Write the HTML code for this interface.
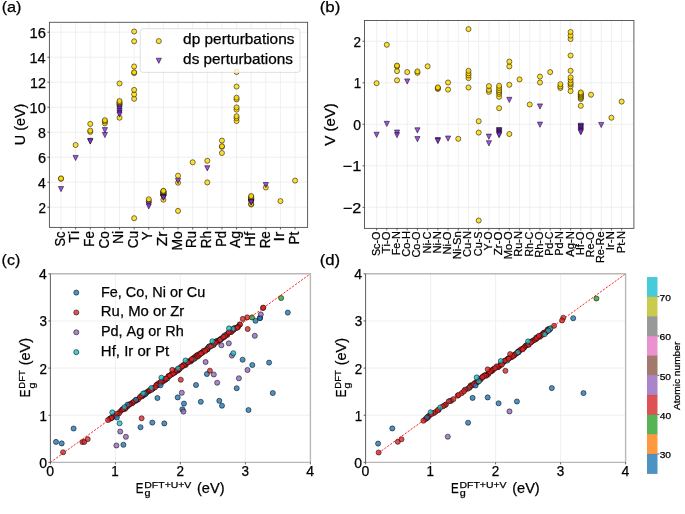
<!DOCTYPE html>
<html><head><meta charset="utf-8"><style>
html,body{margin:0;padding:0;background:#fff;width:685px;height:514px;overflow:hidden}
svg{display:block;will-change:transform}
text{font-family:"Liberation Sans",sans-serif;fill:#000;font-kerning:none;stroke:#000;stroke-width:0.25px}
</style></head><body>
<svg width="685" height="514" viewBox="0 0 685 514">
<rect width="685" height="514" fill="#fff"/>
<line x1="61.00" y1="22.3" x2="61.00" y2="227.4" stroke="#eeeeee" stroke-width="0.9"/>
<line x1="75.63" y1="22.3" x2="75.63" y2="227.4" stroke="#eeeeee" stroke-width="0.9"/>
<line x1="90.26" y1="22.3" x2="90.26" y2="227.4" stroke="#eeeeee" stroke-width="0.9"/>
<line x1="104.89" y1="22.3" x2="104.89" y2="227.4" stroke="#eeeeee" stroke-width="0.9"/>
<line x1="119.52" y1="22.3" x2="119.52" y2="227.4" stroke="#eeeeee" stroke-width="0.9"/>
<line x1="134.15" y1="22.3" x2="134.15" y2="227.4" stroke="#eeeeee" stroke-width="0.9"/>
<line x1="148.78" y1="22.3" x2="148.78" y2="227.4" stroke="#eeeeee" stroke-width="0.9"/>
<line x1="163.41" y1="22.3" x2="163.41" y2="227.4" stroke="#eeeeee" stroke-width="0.9"/>
<line x1="178.04" y1="22.3" x2="178.04" y2="227.4" stroke="#eeeeee" stroke-width="0.9"/>
<line x1="192.67" y1="22.3" x2="192.67" y2="227.4" stroke="#eeeeee" stroke-width="0.9"/>
<line x1="207.30" y1="22.3" x2="207.30" y2="227.4" stroke="#eeeeee" stroke-width="0.9"/>
<line x1="221.93" y1="22.3" x2="221.93" y2="227.4" stroke="#eeeeee" stroke-width="0.9"/>
<line x1="236.56" y1="22.3" x2="236.56" y2="227.4" stroke="#eeeeee" stroke-width="0.9"/>
<line x1="251.19" y1="22.3" x2="251.19" y2="227.4" stroke="#eeeeee" stroke-width="0.9"/>
<line x1="265.82" y1="22.3" x2="265.82" y2="227.4" stroke="#eeeeee" stroke-width="0.9"/>
<line x1="280.45" y1="22.3" x2="280.45" y2="227.4" stroke="#eeeeee" stroke-width="0.9"/>
<line x1="295.08" y1="22.3" x2="295.08" y2="227.4" stroke="#eeeeee" stroke-width="0.9"/>
<line x1="49.4" y1="207.20" x2="307.6" y2="207.20" stroke="#eeeeee" stroke-width="0.9"/>
<line x1="49.4" y1="182.20" x2="307.6" y2="182.20" stroke="#eeeeee" stroke-width="0.9"/>
<line x1="49.4" y1="157.20" x2="307.6" y2="157.20" stroke="#eeeeee" stroke-width="0.9"/>
<line x1="49.4" y1="132.20" x2="307.6" y2="132.20" stroke="#eeeeee" stroke-width="0.9"/>
<line x1="49.4" y1="107.20" x2="307.6" y2="107.20" stroke="#eeeeee" stroke-width="0.9"/>
<line x1="49.4" y1="82.20" x2="307.6" y2="82.20" stroke="#eeeeee" stroke-width="0.9"/>
<line x1="49.4" y1="57.20" x2="307.6" y2="57.20" stroke="#eeeeee" stroke-width="0.9"/>
<line x1="49.4" y1="32.20" x2="307.6" y2="32.20" stroke="#eeeeee" stroke-width="0.9"/>
<circle cx="61.00" cy="178.80" r="2.55" fill="#ffd700" fill-opacity="0.8" stroke="#000" stroke-opacity="0.65" stroke-width="0.8"/>
<circle cx="61.00" cy="178.40" r="2.55" fill="#ffd700" fill-opacity="0.8" stroke="#000" stroke-opacity="0.65" stroke-width="0.8"/>
<circle cx="75.63" cy="145.00" r="2.55" fill="#ffd700" fill-opacity="0.8" stroke="#000" stroke-opacity="0.65" stroke-width="0.8"/>
<circle cx="90.26" cy="131.90" r="2.55" fill="#ffd700" fill-opacity="0.8" stroke="#000" stroke-opacity="0.65" stroke-width="0.8"/>
<circle cx="90.26" cy="130.60" r="2.55" fill="#ffd700" fill-opacity="0.8" stroke="#000" stroke-opacity="0.65" stroke-width="0.8"/>
<circle cx="90.26" cy="123.90" r="2.55" fill="#ffd700" fill-opacity="0.8" stroke="#000" stroke-opacity="0.65" stroke-width="0.8"/>
<circle cx="104.89" cy="123.30" r="2.55" fill="#ffd700" fill-opacity="0.8" stroke="#000" stroke-opacity="0.65" stroke-width="0.8"/>
<circle cx="104.89" cy="121.40" r="2.55" fill="#ffd700" fill-opacity="0.8" stroke="#000" stroke-opacity="0.65" stroke-width="0.8"/>
<circle cx="104.89" cy="120.20" r="2.55" fill="#ffd700" fill-opacity="0.8" stroke="#000" stroke-opacity="0.65" stroke-width="0.8"/>
<circle cx="119.52" cy="117.70" r="2.55" fill="#ffd700" fill-opacity="0.8" stroke="#000" stroke-opacity="0.65" stroke-width="0.8"/>
<circle cx="119.52" cy="104.60" r="2.55" fill="#ffd700" fill-opacity="0.8" stroke="#000" stroke-opacity="0.65" stroke-width="0.8"/>
<circle cx="119.52" cy="103.40" r="2.55" fill="#ffd700" fill-opacity="0.8" stroke="#000" stroke-opacity="0.65" stroke-width="0.8"/>
<circle cx="119.52" cy="102.20" r="2.55" fill="#ffd700" fill-opacity="0.8" stroke="#000" stroke-opacity="0.65" stroke-width="0.8"/>
<circle cx="119.52" cy="101.00" r="2.55" fill="#ffd700" fill-opacity="0.8" stroke="#000" stroke-opacity="0.65" stroke-width="0.8"/>
<circle cx="119.52" cy="83.50" r="2.55" fill="#ffd700" fill-opacity="0.8" stroke="#000" stroke-opacity="0.65" stroke-width="0.8"/>
<circle cx="134.15" cy="218.20" r="2.55" fill="#ffd700" fill-opacity="0.8" stroke="#000" stroke-opacity="0.65" stroke-width="0.8"/>
<circle cx="134.15" cy="98.80" r="2.55" fill="#ffd700" fill-opacity="0.8" stroke="#000" stroke-opacity="0.65" stroke-width="0.8"/>
<circle cx="134.15" cy="94.40" r="2.55" fill="#ffd700" fill-opacity="0.8" stroke="#000" stroke-opacity="0.65" stroke-width="0.8"/>
<circle cx="134.15" cy="89.90" r="2.55" fill="#ffd700" fill-opacity="0.8" stroke="#000" stroke-opacity="0.65" stroke-width="0.8"/>
<circle cx="134.15" cy="73.00" r="2.55" fill="#ffd700" fill-opacity="0.8" stroke="#000" stroke-opacity="0.65" stroke-width="0.8"/>
<circle cx="134.15" cy="72.30" r="2.55" fill="#ffd700" fill-opacity="0.8" stroke="#000" stroke-opacity="0.65" stroke-width="0.8"/>
<circle cx="134.15" cy="66.50" r="2.55" fill="#ffd700" fill-opacity="0.8" stroke="#000" stroke-opacity="0.65" stroke-width="0.8"/>
<circle cx="134.15" cy="41.30" r="2.55" fill="#ffd700" fill-opacity="0.8" stroke="#000" stroke-opacity="0.65" stroke-width="0.8"/>
<circle cx="134.15" cy="31.50" r="2.55" fill="#ffd700" fill-opacity="0.8" stroke="#000" stroke-opacity="0.65" stroke-width="0.8"/>
<circle cx="148.78" cy="201.20" r="2.55" fill="#ffd700" fill-opacity="0.8" stroke="#000" stroke-opacity="0.65" stroke-width="0.8"/>
<circle cx="148.78" cy="199.30" r="2.55" fill="#ffd700" fill-opacity="0.8" stroke="#000" stroke-opacity="0.65" stroke-width="0.8"/>
<circle cx="163.41" cy="199.70" r="2.55" fill="#ffd700" fill-opacity="0.8" stroke="#000" stroke-opacity="0.65" stroke-width="0.8"/>
<circle cx="163.41" cy="195.30" r="2.55" fill="#ffd700" fill-opacity="0.8" stroke="#000" stroke-opacity="0.65" stroke-width="0.8"/>
<circle cx="163.41" cy="194.80" r="2.55" fill="#ffd700" fill-opacity="0.8" stroke="#000" stroke-opacity="0.65" stroke-width="0.8"/>
<circle cx="163.41" cy="194.30" r="2.55" fill="#ffd700" fill-opacity="0.8" stroke="#000" stroke-opacity="0.65" stroke-width="0.8"/>
<circle cx="163.41" cy="193.80" r="2.55" fill="#ffd700" fill-opacity="0.8" stroke="#000" stroke-opacity="0.65" stroke-width="0.8"/>
<circle cx="163.41" cy="193.30" r="2.55" fill="#ffd700" fill-opacity="0.8" stroke="#000" stroke-opacity="0.65" stroke-width="0.8"/>
<circle cx="163.41" cy="192.80" r="2.55" fill="#ffd700" fill-opacity="0.8" stroke="#000" stroke-opacity="0.65" stroke-width="0.8"/>
<circle cx="163.41" cy="192.30" r="2.55" fill="#ffd700" fill-opacity="0.8" stroke="#000" stroke-opacity="0.65" stroke-width="0.8"/>
<circle cx="163.41" cy="191.80" r="2.55" fill="#ffd700" fill-opacity="0.8" stroke="#000" stroke-opacity="0.65" stroke-width="0.8"/>
<circle cx="163.41" cy="191.30" r="2.55" fill="#ffd700" fill-opacity="0.8" stroke="#000" stroke-opacity="0.65" stroke-width="0.8"/>
<circle cx="163.41" cy="190.80" r="2.55" fill="#ffd700" fill-opacity="0.8" stroke="#000" stroke-opacity="0.65" stroke-width="0.8"/>
<circle cx="178.04" cy="210.90" r="2.55" fill="#ffd700" fill-opacity="0.8" stroke="#000" stroke-opacity="0.65" stroke-width="0.8"/>
<circle cx="178.04" cy="182.70" r="2.55" fill="#ffd700" fill-opacity="0.8" stroke="#000" stroke-opacity="0.65" stroke-width="0.8"/>
<circle cx="178.04" cy="175.70" r="2.55" fill="#ffd700" fill-opacity="0.8" stroke="#000" stroke-opacity="0.65" stroke-width="0.8"/>
<circle cx="192.67" cy="162.30" r="2.55" fill="#ffd700" fill-opacity="0.8" stroke="#000" stroke-opacity="0.65" stroke-width="0.8"/>
<circle cx="207.30" cy="182.40" r="2.55" fill="#ffd700" fill-opacity="0.8" stroke="#000" stroke-opacity="0.65" stroke-width="0.8"/>
<circle cx="207.30" cy="160.80" r="2.55" fill="#ffd700" fill-opacity="0.8" stroke="#000" stroke-opacity="0.65" stroke-width="0.8"/>
<circle cx="221.93" cy="153.00" r="2.55" fill="#ffd700" fill-opacity="0.8" stroke="#000" stroke-opacity="0.65" stroke-width="0.8"/>
<circle cx="221.93" cy="146.80" r="2.55" fill="#ffd700" fill-opacity="0.8" stroke="#000" stroke-opacity="0.65" stroke-width="0.8"/>
<circle cx="221.93" cy="146.20" r="2.55" fill="#ffd700" fill-opacity="0.8" stroke="#000" stroke-opacity="0.65" stroke-width="0.8"/>
<circle cx="221.93" cy="140.60" r="2.55" fill="#ffd700" fill-opacity="0.8" stroke="#000" stroke-opacity="0.65" stroke-width="0.8"/>
<circle cx="236.56" cy="121.00" r="2.55" fill="#ffd700" fill-opacity="0.8" stroke="#000" stroke-opacity="0.65" stroke-width="0.8"/>
<circle cx="236.56" cy="118.10" r="2.55" fill="#ffd700" fill-opacity="0.8" stroke="#000" stroke-opacity="0.65" stroke-width="0.8"/>
<circle cx="236.56" cy="116.20" r="2.55" fill="#ffd700" fill-opacity="0.8" stroke="#000" stroke-opacity="0.65" stroke-width="0.8"/>
<circle cx="236.56" cy="109.60" r="2.55" fill="#ffd700" fill-opacity="0.8" stroke="#000" stroke-opacity="0.65" stroke-width="0.8"/>
<circle cx="236.56" cy="107.40" r="2.55" fill="#ffd700" fill-opacity="0.8" stroke="#000" stroke-opacity="0.65" stroke-width="0.8"/>
<circle cx="236.56" cy="99.40" r="2.55" fill="#ffd700" fill-opacity="0.8" stroke="#000" stroke-opacity="0.65" stroke-width="0.8"/>
<circle cx="236.56" cy="97.70" r="2.55" fill="#ffd700" fill-opacity="0.8" stroke="#000" stroke-opacity="0.65" stroke-width="0.8"/>
<circle cx="236.56" cy="86.60" r="2.55" fill="#ffd700" fill-opacity="0.8" stroke="#000" stroke-opacity="0.65" stroke-width="0.8"/>
<circle cx="236.56" cy="72.00" r="2.55" fill="#ffd700" fill-opacity="0.8" stroke="#000" stroke-opacity="0.65" stroke-width="0.8"/>
<circle cx="251.19" cy="204.50" r="2.55" fill="#ffd700" fill-opacity="0.8" stroke="#000" stroke-opacity="0.65" stroke-width="0.8"/>
<circle cx="251.19" cy="203.90" r="2.55" fill="#ffd700" fill-opacity="0.8" stroke="#000" stroke-opacity="0.65" stroke-width="0.8"/>
<circle cx="251.19" cy="200.80" r="2.55" fill="#ffd700" fill-opacity="0.8" stroke="#000" stroke-opacity="0.65" stroke-width="0.8"/>
<circle cx="251.19" cy="200.00" r="2.55" fill="#ffd700" fill-opacity="0.8" stroke="#000" stroke-opacity="0.65" stroke-width="0.8"/>
<circle cx="251.19" cy="199.20" r="2.55" fill="#ffd700" fill-opacity="0.8" stroke="#000" stroke-opacity="0.65" stroke-width="0.8"/>
<circle cx="251.19" cy="198.50" r="2.55" fill="#ffd700" fill-opacity="0.8" stroke="#000" stroke-opacity="0.65" stroke-width="0.8"/>
<circle cx="251.19" cy="197.80" r="2.55" fill="#ffd700" fill-opacity="0.8" stroke="#000" stroke-opacity="0.65" stroke-width="0.8"/>
<circle cx="251.19" cy="197.00" r="2.55" fill="#ffd700" fill-opacity="0.8" stroke="#000" stroke-opacity="0.65" stroke-width="0.8"/>
<circle cx="251.19" cy="196.00" r="2.55" fill="#ffd700" fill-opacity="0.8" stroke="#000" stroke-opacity="0.65" stroke-width="0.8"/>
<circle cx="265.82" cy="187.50" r="2.55" fill="#ffd700" fill-opacity="0.8" stroke="#000" stroke-opacity="0.65" stroke-width="0.8"/>
<circle cx="280.45" cy="201.10" r="2.55" fill="#ffd700" fill-opacity="0.8" stroke="#000" stroke-opacity="0.65" stroke-width="0.8"/>
<circle cx="295.08" cy="180.60" r="2.55" fill="#ffd700" fill-opacity="0.8" stroke="#000" stroke-opacity="0.65" stroke-width="0.8"/>
<polygon points="58.40,186.50 63.60,186.50 61.00,191.70" fill="#8a2be2" fill-opacity="0.8" stroke="#000" stroke-opacity="0.65" stroke-width="0.8"/>
<polygon points="73.03,155.40 78.23,155.40 75.63,160.60" fill="#8a2be2" fill-opacity="0.8" stroke="#000" stroke-opacity="0.65" stroke-width="0.8"/>
<polygon points="87.66,138.30 92.86,138.30 90.26,143.50" fill="#8a2be2" fill-opacity="0.8" stroke="#000" stroke-opacity="0.65" stroke-width="0.8"/>
<polygon points="87.66,138.90 92.86,138.90 90.26,144.10" fill="#8a2be2" fill-opacity="0.8" stroke="#000" stroke-opacity="0.65" stroke-width="0.8"/>
<polygon points="102.29,127.60 107.49,127.60 104.89,132.80" fill="#8a2be2" fill-opacity="0.8" stroke="#000" stroke-opacity="0.65" stroke-width="0.8"/>
<polygon points="102.29,132.40 107.49,132.40 104.89,137.60" fill="#8a2be2" fill-opacity="0.8" stroke="#000" stroke-opacity="0.65" stroke-width="0.8"/>
<polygon points="116.92,104.90 122.12,104.90 119.52,110.10" fill="#8a2be2" fill-opacity="0.8" stroke="#000" stroke-opacity="0.65" stroke-width="0.8"/>
<polygon points="116.92,106.70 122.12,106.70 119.52,111.90" fill="#8a2be2" fill-opacity="0.8" stroke="#000" stroke-opacity="0.65" stroke-width="0.8"/>
<polygon points="116.92,108.50 122.12,108.50 119.52,113.70" fill="#8a2be2" fill-opacity="0.8" stroke="#000" stroke-opacity="0.65" stroke-width="0.8"/>
<polygon points="116.92,110.30 122.12,110.30 119.52,115.50" fill="#8a2be2" fill-opacity="0.8" stroke="#000" stroke-opacity="0.65" stroke-width="0.8"/>
<polygon points="116.92,111.90 122.12,111.90 119.52,117.10" fill="#8a2be2" fill-opacity="0.8" stroke="#000" stroke-opacity="0.65" stroke-width="0.8"/>
<polygon points="146.18,201.90 151.38,201.90 148.78,207.10" fill="#8a2be2" fill-opacity="0.8" stroke="#000" stroke-opacity="0.65" stroke-width="0.8"/>
<polygon points="146.18,203.80 151.38,203.80 148.78,209.00" fill="#8a2be2" fill-opacity="0.8" stroke="#000" stroke-opacity="0.65" stroke-width="0.8"/>
<polygon points="160.81,194.70 166.01,194.70 163.41,199.90" fill="#8a2be2" fill-opacity="0.8" stroke="#000" stroke-opacity="0.65" stroke-width="0.8"/>
<polygon points="160.81,195.20 166.01,195.20 163.41,200.40" fill="#8a2be2" fill-opacity="0.8" stroke="#000" stroke-opacity="0.65" stroke-width="0.8"/>
<polygon points="175.44,178.40 180.64,178.40 178.04,183.60" fill="#8a2be2" fill-opacity="0.8" stroke="#000" stroke-opacity="0.65" stroke-width="0.8"/>
<polygon points="204.70,165.70 209.90,165.70 207.30,170.90" fill="#8a2be2" fill-opacity="0.8" stroke="#000" stroke-opacity="0.65" stroke-width="0.8"/>
<polygon points="248.59,199.30 253.79,199.30 251.19,204.50" fill="#8a2be2" fill-opacity="0.8" stroke="#000" stroke-opacity="0.65" stroke-width="0.8"/>
<polygon points="248.59,199.90 253.79,199.90 251.19,205.10" fill="#8a2be2" fill-opacity="0.8" stroke="#000" stroke-opacity="0.65" stroke-width="0.8"/>
<polygon points="263.22,182.50 268.42,182.50 265.82,187.70" fill="#8a2be2" fill-opacity="0.8" stroke="#000" stroke-opacity="0.65" stroke-width="0.8"/>
<rect x="140.2" y="28.7" width="159.8" height="43.7" rx="2.5" fill="#fff" fill-opacity="0.8" stroke="#dcdcdc" stroke-width="0.9"/>
<circle cx="158.80" cy="41.10" r="2.55" fill="#ffd700" fill-opacity="0.8" stroke="#000" stroke-opacity="0.65" stroke-width="0.8"/>
<polygon points="156.20,58.20 161.40,58.20 158.80,63.40" fill="#8a2be2" fill-opacity="0.8" stroke="#000" stroke-opacity="0.65" stroke-width="0.8"/>
<text x="183.1" y="44.4" font-size="14.12" textLength="111.38" lengthAdjust="spacingAndGlyphs">dp perturbations</text>
<text x="183.11" y="64.2" font-size="14.12" textLength="109.86" lengthAdjust="spacingAndGlyphs">ds perturbations</text>
<rect x="49.4" y="22.3" width="258.20" height="205.10" fill="none" stroke="#4d4d4d" stroke-width="0.9"/>
<line x1="61.00" y1="227.4" x2="61.00" y2="229.4" stroke="#4d4d4d" stroke-width="0.9"/>
<line x1="75.63" y1="227.4" x2="75.63" y2="229.4" stroke="#4d4d4d" stroke-width="0.9"/>
<line x1="90.26" y1="227.4" x2="90.26" y2="229.4" stroke="#4d4d4d" stroke-width="0.9"/>
<line x1="104.89" y1="227.4" x2="104.89" y2="229.4" stroke="#4d4d4d" stroke-width="0.9"/>
<line x1="119.52" y1="227.4" x2="119.52" y2="229.4" stroke="#4d4d4d" stroke-width="0.9"/>
<line x1="134.15" y1="227.4" x2="134.15" y2="229.4" stroke="#4d4d4d" stroke-width="0.9"/>
<line x1="148.78" y1="227.4" x2="148.78" y2="229.4" stroke="#4d4d4d" stroke-width="0.9"/>
<line x1="163.41" y1="227.4" x2="163.41" y2="229.4" stroke="#4d4d4d" stroke-width="0.9"/>
<line x1="178.04" y1="227.4" x2="178.04" y2="229.4" stroke="#4d4d4d" stroke-width="0.9"/>
<line x1="192.67" y1="227.4" x2="192.67" y2="229.4" stroke="#4d4d4d" stroke-width="0.9"/>
<line x1="207.30" y1="227.4" x2="207.30" y2="229.4" stroke="#4d4d4d" stroke-width="0.9"/>
<line x1="221.93" y1="227.4" x2="221.93" y2="229.4" stroke="#4d4d4d" stroke-width="0.9"/>
<line x1="236.56" y1="227.4" x2="236.56" y2="229.4" stroke="#4d4d4d" stroke-width="0.9"/>
<line x1="251.19" y1="227.4" x2="251.19" y2="229.4" stroke="#4d4d4d" stroke-width="0.9"/>
<line x1="265.82" y1="227.4" x2="265.82" y2="229.4" stroke="#4d4d4d" stroke-width="0.9"/>
<line x1="280.45" y1="227.4" x2="280.45" y2="229.4" stroke="#4d4d4d" stroke-width="0.9"/>
<line x1="295.08" y1="227.4" x2="295.08" y2="229.4" stroke="#4d4d4d" stroke-width="0.9"/>
<line x1="47.4" y1="207.20" x2="49.4" y2="207.20" stroke="#4d4d4d" stroke-width="0.9"/>
<text x="38.5" y="212.65" font-size="14.12" textLength="7.53" lengthAdjust="spacingAndGlyphs">2</text>
<line x1="47.4" y1="182.20" x2="49.4" y2="182.20" stroke="#4d4d4d" stroke-width="0.9"/>
<text x="37.95" y="187.65" font-size="14.12" textLength="7.82" lengthAdjust="spacingAndGlyphs">4</text>
<line x1="47.4" y1="157.20" x2="49.4" y2="157.20" stroke="#4d4d4d" stroke-width="0.9"/>
<text x="37.9" y="162.65" font-size="14.12" textLength="8.09" lengthAdjust="spacingAndGlyphs">6</text>
<line x1="47.4" y1="132.20" x2="49.4" y2="132.20" stroke="#4d4d4d" stroke-width="0.9"/>
<text x="38.07" y="137.65" font-size="14.12" textLength="7.9" lengthAdjust="spacingAndGlyphs">8</text>
<line x1="47.4" y1="107.20" x2="49.4" y2="107.20" stroke="#4d4d4d" stroke-width="0.9"/>
<text x="29.62" y="112.65" font-size="14.12" textLength="16.3" lengthAdjust="spacingAndGlyphs">10</text>
<line x1="47.4" y1="82.20" x2="49.4" y2="82.20" stroke="#4d4d4d" stroke-width="0.9"/>
<text x="30.09" y="87.65" font-size="14.12" textLength="15.98" lengthAdjust="spacingAndGlyphs">12</text>
<line x1="47.4" y1="57.20" x2="49.4" y2="57.20" stroke="#4d4d4d" stroke-width="0.9"/>
<text x="29.49" y="62.65" font-size="14.12" textLength="16.29" lengthAdjust="spacingAndGlyphs">14</text>
<line x1="47.4" y1="32.20" x2="49.4" y2="32.20" stroke="#4d4d4d" stroke-width="0.9"/>
<text x="29.57" y="37.65" font-size="14.12" textLength="16.43" lengthAdjust="spacingAndGlyphs">16</text>
<text transform="translate(64.68,246.47) rotate(-90)" font-size="14.12" textLength="15.01" lengthAdjust="spacingAndGlyphs">Sc</text>
<text transform="translate(79.31,242.76) rotate(-90)" font-size="14.12" textLength="11.92" lengthAdjust="spacingAndGlyphs">Ti</text>
<text transform="translate(93.94,246.74) rotate(-90)" font-size="14.12" textLength="15.53" lengthAdjust="spacingAndGlyphs">Fe</text>
<text transform="translate(108.57,248.47) rotate(-90)" font-size="14.12" textLength="17.24" lengthAdjust="spacingAndGlyphs">Co</text>
<text transform="translate(123.2,244.06) rotate(-90)" font-size="14.12" textLength="13.21" lengthAdjust="spacingAndGlyphs">Ni</text>
<text transform="translate(137.83,248.29) rotate(-90)" font-size="14.12" textLength="17.39" lengthAdjust="spacingAndGlyphs">Cu</text>
<text transform="translate(152.46,240.28) rotate(-90)" font-size="14.12" textLength="8.77" lengthAdjust="spacingAndGlyphs">Y</text>
<text transform="translate(167.09,246.31) rotate(-90)" font-size="14.12" textLength="14.77" lengthAdjust="spacingAndGlyphs">Zr</text>
<text transform="translate(181.72,250.56) rotate(-90)" font-size="14.12" textLength="19.35" lengthAdjust="spacingAndGlyphs">Mo</text>
<text transform="translate(196.35,248.09) rotate(-90)" font-size="14.12" textLength="17.19" lengthAdjust="spacingAndGlyphs">Ru</text>
<text transform="translate(210.98,248.18) rotate(-90)" font-size="14.12" textLength="17.25" lengthAdjust="spacingAndGlyphs">Rh</text>
<text transform="translate(225.61,246.85) rotate(-90)" font-size="14.12" textLength="15.88" lengthAdjust="spacingAndGlyphs">Pd</text>
<text transform="translate(240.24,248.09) rotate(-90)" font-size="14.12" textLength="17.2" lengthAdjust="spacingAndGlyphs">Ag</text>
<text transform="translate(254.87,246.68) rotate(-90)" font-size="14.12" textLength="14.86" lengthAdjust="spacingAndGlyphs">Hf</text>
<text transform="translate(269.5,248.35) rotate(-90)" font-size="14.12" textLength="17.14" lengthAdjust="spacingAndGlyphs">Re</text>
<text transform="translate(284.13,241.39) rotate(-90)" font-size="14.12" textLength="9.86" lengthAdjust="spacingAndGlyphs">Ir</text>
<text transform="translate(298.76,244.55) rotate(-90)" font-size="14.12" textLength="12.85" lengthAdjust="spacingAndGlyphs">Pt</text>
<text transform="translate(25.1,145.16) rotate(-90)" font-size="14.12" textLength="41.39" lengthAdjust="spacingAndGlyphs">U (eV)</text>
<line x1="376.60" y1="20.5" x2="376.60" y2="228.4" stroke="#eeeeee" stroke-width="0.9"/>
<line x1="386.81" y1="20.5" x2="386.81" y2="228.4" stroke="#eeeeee" stroke-width="0.9"/>
<line x1="397.02" y1="20.5" x2="397.02" y2="228.4" stroke="#eeeeee" stroke-width="0.9"/>
<line x1="407.23" y1="20.5" x2="407.23" y2="228.4" stroke="#eeeeee" stroke-width="0.9"/>
<line x1="417.44" y1="20.5" x2="417.44" y2="228.4" stroke="#eeeeee" stroke-width="0.9"/>
<line x1="427.65" y1="20.5" x2="427.65" y2="228.4" stroke="#eeeeee" stroke-width="0.9"/>
<line x1="437.86" y1="20.5" x2="437.86" y2="228.4" stroke="#eeeeee" stroke-width="0.9"/>
<line x1="448.07" y1="20.5" x2="448.07" y2="228.4" stroke="#eeeeee" stroke-width="0.9"/>
<line x1="458.28" y1="20.5" x2="458.28" y2="228.4" stroke="#eeeeee" stroke-width="0.9"/>
<line x1="468.49" y1="20.5" x2="468.49" y2="228.4" stroke="#eeeeee" stroke-width="0.9"/>
<line x1="478.70" y1="20.5" x2="478.70" y2="228.4" stroke="#eeeeee" stroke-width="0.9"/>
<line x1="488.91" y1="20.5" x2="488.91" y2="228.4" stroke="#eeeeee" stroke-width="0.9"/>
<line x1="499.12" y1="20.5" x2="499.12" y2="228.4" stroke="#eeeeee" stroke-width="0.9"/>
<line x1="509.33" y1="20.5" x2="509.33" y2="228.4" stroke="#eeeeee" stroke-width="0.9"/>
<line x1="519.54" y1="20.5" x2="519.54" y2="228.4" stroke="#eeeeee" stroke-width="0.9"/>
<line x1="529.75" y1="20.5" x2="529.75" y2="228.4" stroke="#eeeeee" stroke-width="0.9"/>
<line x1="539.96" y1="20.5" x2="539.96" y2="228.4" stroke="#eeeeee" stroke-width="0.9"/>
<line x1="550.17" y1="20.5" x2="550.17" y2="228.4" stroke="#eeeeee" stroke-width="0.9"/>
<line x1="560.38" y1="20.5" x2="560.38" y2="228.4" stroke="#eeeeee" stroke-width="0.9"/>
<line x1="570.59" y1="20.5" x2="570.59" y2="228.4" stroke="#eeeeee" stroke-width="0.9"/>
<line x1="580.80" y1="20.5" x2="580.80" y2="228.4" stroke="#eeeeee" stroke-width="0.9"/>
<line x1="591.01" y1="20.5" x2="591.01" y2="228.4" stroke="#eeeeee" stroke-width="0.9"/>
<line x1="601.22" y1="20.5" x2="601.22" y2="228.4" stroke="#eeeeee" stroke-width="0.9"/>
<line x1="611.43" y1="20.5" x2="611.43" y2="228.4" stroke="#eeeeee" stroke-width="0.9"/>
<line x1="621.64" y1="20.5" x2="621.64" y2="228.4" stroke="#eeeeee" stroke-width="0.9"/>
<line x1="364.5" y1="207.30" x2="633.9" y2="207.30" stroke="#eeeeee" stroke-width="0.9"/>
<line x1="364.5" y1="165.80" x2="633.9" y2="165.80" stroke="#eeeeee" stroke-width="0.9"/>
<line x1="364.5" y1="124.30" x2="633.9" y2="124.30" stroke="#eeeeee" stroke-width="0.9"/>
<line x1="364.5" y1="82.80" x2="633.9" y2="82.80" stroke="#eeeeee" stroke-width="0.9"/>
<line x1="364.5" y1="41.30" x2="633.9" y2="41.30" stroke="#eeeeee" stroke-width="0.9"/>
<circle cx="376.60" cy="83.20" r="2.55" fill="#ffd700" fill-opacity="0.8" stroke="#000" stroke-opacity="0.65" stroke-width="0.8"/>
<circle cx="386.81" cy="44.80" r="2.55" fill="#ffd700" fill-opacity="0.8" stroke="#000" stroke-opacity="0.65" stroke-width="0.8"/>
<circle cx="397.02" cy="80.30" r="2.55" fill="#ffd700" fill-opacity="0.8" stroke="#000" stroke-opacity="0.65" stroke-width="0.8"/>
<circle cx="397.02" cy="71.10" r="2.55" fill="#ffd700" fill-opacity="0.8" stroke="#000" stroke-opacity="0.65" stroke-width="0.8"/>
<circle cx="397.02" cy="66.40" r="2.55" fill="#ffd700" fill-opacity="0.8" stroke="#000" stroke-opacity="0.65" stroke-width="0.8"/>
<circle cx="397.02" cy="65.60" r="2.55" fill="#ffd700" fill-opacity="0.8" stroke="#000" stroke-opacity="0.65" stroke-width="0.8"/>
<circle cx="407.23" cy="72.10" r="2.55" fill="#ffd700" fill-opacity="0.8" stroke="#000" stroke-opacity="0.65" stroke-width="0.8"/>
<circle cx="417.44" cy="72.80" r="2.55" fill="#ffd700" fill-opacity="0.8" stroke="#000" stroke-opacity="0.65" stroke-width="0.8"/>
<circle cx="417.44" cy="71.40" r="2.55" fill="#ffd700" fill-opacity="0.8" stroke="#000" stroke-opacity="0.65" stroke-width="0.8"/>
<circle cx="427.65" cy="66.30" r="2.55" fill="#ffd700" fill-opacity="0.8" stroke="#000" stroke-opacity="0.65" stroke-width="0.8"/>
<circle cx="437.86" cy="88.90" r="2.55" fill="#ffd700" fill-opacity="0.8" stroke="#000" stroke-opacity="0.65" stroke-width="0.8"/>
<circle cx="437.86" cy="88.20" r="2.55" fill="#ffd700" fill-opacity="0.8" stroke="#000" stroke-opacity="0.65" stroke-width="0.8"/>
<circle cx="437.86" cy="87.40" r="2.55" fill="#ffd700" fill-opacity="0.8" stroke="#000" stroke-opacity="0.65" stroke-width="0.8"/>
<circle cx="448.07" cy="89.60" r="2.55" fill="#ffd700" fill-opacity="0.8" stroke="#000" stroke-opacity="0.65" stroke-width="0.8"/>
<circle cx="448.07" cy="82.50" r="2.55" fill="#ffd700" fill-opacity="0.8" stroke="#000" stroke-opacity="0.65" stroke-width="0.8"/>
<circle cx="458.28" cy="138.80" r="2.55" fill="#ffd700" fill-opacity="0.8" stroke="#000" stroke-opacity="0.65" stroke-width="0.8"/>
<circle cx="468.49" cy="87.50" r="2.55" fill="#ffd700" fill-opacity="0.8" stroke="#000" stroke-opacity="0.65" stroke-width="0.8"/>
<circle cx="468.49" cy="78.10" r="2.55" fill="#ffd700" fill-opacity="0.8" stroke="#000" stroke-opacity="0.65" stroke-width="0.8"/>
<circle cx="468.49" cy="75.50" r="2.55" fill="#ffd700" fill-opacity="0.8" stroke="#000" stroke-opacity="0.65" stroke-width="0.8"/>
<circle cx="468.49" cy="73.30" r="2.55" fill="#ffd700" fill-opacity="0.8" stroke="#000" stroke-opacity="0.65" stroke-width="0.8"/>
<circle cx="468.49" cy="70.80" r="2.55" fill="#ffd700" fill-opacity="0.8" stroke="#000" stroke-opacity="0.65" stroke-width="0.8"/>
<circle cx="468.49" cy="29.10" r="2.55" fill="#ffd700" fill-opacity="0.8" stroke="#000" stroke-opacity="0.65" stroke-width="0.8"/>
<circle cx="478.70" cy="220.50" r="2.55" fill="#ffd700" fill-opacity="0.8" stroke="#000" stroke-opacity="0.65" stroke-width="0.8"/>
<circle cx="478.70" cy="132.60" r="2.55" fill="#ffd700" fill-opacity="0.8" stroke="#000" stroke-opacity="0.65" stroke-width="0.8"/>
<circle cx="478.70" cy="121.20" r="2.55" fill="#ffd700" fill-opacity="0.8" stroke="#000" stroke-opacity="0.65" stroke-width="0.8"/>
<circle cx="488.91" cy="91.80" r="2.55" fill="#ffd700" fill-opacity="0.8" stroke="#000" stroke-opacity="0.65" stroke-width="0.8"/>
<circle cx="488.91" cy="89.80" r="2.55" fill="#ffd700" fill-opacity="0.8" stroke="#000" stroke-opacity="0.65" stroke-width="0.8"/>
<circle cx="488.91" cy="86.10" r="2.55" fill="#ffd700" fill-opacity="0.8" stroke="#000" stroke-opacity="0.65" stroke-width="0.8"/>
<circle cx="499.12" cy="108.20" r="2.55" fill="#ffd700" fill-opacity="0.8" stroke="#000" stroke-opacity="0.65" stroke-width="0.8"/>
<circle cx="499.12" cy="96.80" r="2.55" fill="#ffd700" fill-opacity="0.8" stroke="#000" stroke-opacity="0.65" stroke-width="0.8"/>
<circle cx="499.12" cy="93.90" r="2.55" fill="#ffd700" fill-opacity="0.8" stroke="#000" stroke-opacity="0.65" stroke-width="0.8"/>
<circle cx="499.12" cy="92.00" r="2.55" fill="#ffd700" fill-opacity="0.8" stroke="#000" stroke-opacity="0.65" stroke-width="0.8"/>
<circle cx="499.12" cy="90.20" r="2.55" fill="#ffd700" fill-opacity="0.8" stroke="#000" stroke-opacity="0.65" stroke-width="0.8"/>
<circle cx="499.12" cy="88.00" r="2.55" fill="#ffd700" fill-opacity="0.8" stroke="#000" stroke-opacity="0.65" stroke-width="0.8"/>
<circle cx="499.12" cy="85.80" r="2.55" fill="#ffd700" fill-opacity="0.8" stroke="#000" stroke-opacity="0.65" stroke-width="0.8"/>
<circle cx="509.33" cy="134.00" r="2.55" fill="#ffd700" fill-opacity="0.8" stroke="#000" stroke-opacity="0.65" stroke-width="0.8"/>
<circle cx="509.33" cy="84.80" r="2.55" fill="#ffd700" fill-opacity="0.8" stroke="#000" stroke-opacity="0.65" stroke-width="0.8"/>
<circle cx="509.33" cy="66.40" r="2.55" fill="#ffd700" fill-opacity="0.8" stroke="#000" stroke-opacity="0.65" stroke-width="0.8"/>
<circle cx="509.33" cy="61.60" r="2.55" fill="#ffd700" fill-opacity="0.8" stroke="#000" stroke-opacity="0.65" stroke-width="0.8"/>
<circle cx="519.54" cy="79.40" r="2.55" fill="#ffd700" fill-opacity="0.8" stroke="#000" stroke-opacity="0.65" stroke-width="0.8"/>
<circle cx="529.75" cy="104.50" r="2.55" fill="#ffd700" fill-opacity="0.8" stroke="#000" stroke-opacity="0.65" stroke-width="0.8"/>
<circle cx="539.96" cy="82.50" r="2.55" fill="#ffd700" fill-opacity="0.8" stroke="#000" stroke-opacity="0.65" stroke-width="0.8"/>
<circle cx="539.96" cy="76.60" r="2.55" fill="#ffd700" fill-opacity="0.8" stroke="#000" stroke-opacity="0.65" stroke-width="0.8"/>
<circle cx="550.17" cy="72.10" r="2.55" fill="#ffd700" fill-opacity="0.8" stroke="#000" stroke-opacity="0.65" stroke-width="0.8"/>
<circle cx="560.38" cy="88.00" r="2.55" fill="#ffd700" fill-opacity="0.8" stroke="#000" stroke-opacity="0.65" stroke-width="0.8"/>
<circle cx="560.38" cy="86.40" r="2.55" fill="#ffd700" fill-opacity="0.8" stroke="#000" stroke-opacity="0.65" stroke-width="0.8"/>
<circle cx="560.38" cy="84.20" r="2.55" fill="#ffd700" fill-opacity="0.8" stroke="#000" stroke-opacity="0.65" stroke-width="0.8"/>
<circle cx="570.59" cy="91.10" r="2.55" fill="#ffd700" fill-opacity="0.8" stroke="#000" stroke-opacity="0.65" stroke-width="0.8"/>
<circle cx="570.59" cy="86.40" r="2.55" fill="#ffd700" fill-opacity="0.8" stroke="#000" stroke-opacity="0.65" stroke-width="0.8"/>
<circle cx="570.59" cy="84.20" r="2.55" fill="#ffd700" fill-opacity="0.8" stroke="#000" stroke-opacity="0.65" stroke-width="0.8"/>
<circle cx="570.59" cy="82.80" r="2.55" fill="#ffd700" fill-opacity="0.8" stroke="#000" stroke-opacity="0.65" stroke-width="0.8"/>
<circle cx="570.59" cy="80.10" r="2.55" fill="#ffd700" fill-opacity="0.8" stroke="#000" stroke-opacity="0.65" stroke-width="0.8"/>
<circle cx="570.59" cy="77.40" r="2.55" fill="#ffd700" fill-opacity="0.8" stroke="#000" stroke-opacity="0.65" stroke-width="0.8"/>
<circle cx="570.59" cy="70.80" r="2.55" fill="#ffd700" fill-opacity="0.8" stroke="#000" stroke-opacity="0.65" stroke-width="0.8"/>
<circle cx="570.59" cy="55.50" r="2.55" fill="#ffd700" fill-opacity="0.8" stroke="#000" stroke-opacity="0.65" stroke-width="0.8"/>
<circle cx="570.59" cy="39.00" r="2.55" fill="#ffd700" fill-opacity="0.8" stroke="#000" stroke-opacity="0.65" stroke-width="0.8"/>
<circle cx="570.59" cy="35.60" r="2.55" fill="#ffd700" fill-opacity="0.8" stroke="#000" stroke-opacity="0.65" stroke-width="0.8"/>
<circle cx="570.59" cy="32.00" r="2.55" fill="#ffd700" fill-opacity="0.8" stroke="#000" stroke-opacity="0.65" stroke-width="0.8"/>
<circle cx="580.80" cy="105.80" r="2.55" fill="#ffd700" fill-opacity="0.8" stroke="#000" stroke-opacity="0.65" stroke-width="0.8"/>
<circle cx="580.80" cy="99.00" r="2.55" fill="#ffd700" fill-opacity="0.8" stroke="#000" stroke-opacity="0.65" stroke-width="0.8"/>
<circle cx="580.80" cy="97.90" r="2.55" fill="#ffd700" fill-opacity="0.8" stroke="#000" stroke-opacity="0.65" stroke-width="0.8"/>
<circle cx="580.80" cy="96.80" r="2.55" fill="#ffd700" fill-opacity="0.8" stroke="#000" stroke-opacity="0.65" stroke-width="0.8"/>
<circle cx="580.80" cy="95.70" r="2.55" fill="#ffd700" fill-opacity="0.8" stroke="#000" stroke-opacity="0.65" stroke-width="0.8"/>
<circle cx="580.80" cy="94.60" r="2.55" fill="#ffd700" fill-opacity="0.8" stroke="#000" stroke-opacity="0.65" stroke-width="0.8"/>
<circle cx="580.80" cy="93.50" r="2.55" fill="#ffd700" fill-opacity="0.8" stroke="#000" stroke-opacity="0.65" stroke-width="0.8"/>
<circle cx="580.80" cy="92.40" r="2.55" fill="#ffd700" fill-opacity="0.8" stroke="#000" stroke-opacity="0.65" stroke-width="0.8"/>
<circle cx="591.01" cy="94.70" r="2.55" fill="#ffd700" fill-opacity="0.8" stroke="#000" stroke-opacity="0.65" stroke-width="0.8"/>
<circle cx="611.43" cy="117.70" r="2.55" fill="#ffd700" fill-opacity="0.8" stroke="#000" stroke-opacity="0.65" stroke-width="0.8"/>
<circle cx="621.64" cy="101.60" r="2.55" fill="#ffd700" fill-opacity="0.8" stroke="#000" stroke-opacity="0.65" stroke-width="0.8"/>
<polygon points="374.00,132.20 379.20,132.20 376.60,137.40" fill="#8a2be2" fill-opacity="0.8" stroke="#000" stroke-opacity="0.65" stroke-width="0.8"/>
<polygon points="384.21,121.30 389.41,121.30 386.81,126.50" fill="#8a2be2" fill-opacity="0.8" stroke="#000" stroke-opacity="0.65" stroke-width="0.8"/>
<polygon points="394.42,130.00 399.62,130.00 397.02,135.20" fill="#8a2be2" fill-opacity="0.8" stroke="#000" stroke-opacity="0.65" stroke-width="0.8"/>
<polygon points="394.42,132.60 399.62,132.60 397.02,137.80" fill="#8a2be2" fill-opacity="0.8" stroke="#000" stroke-opacity="0.65" stroke-width="0.8"/>
<polygon points="404.63,78.90 409.83,78.90 407.23,84.10" fill="#8a2be2" fill-opacity="0.8" stroke="#000" stroke-opacity="0.65" stroke-width="0.8"/>
<polygon points="414.84,127.80 420.04,127.80 417.44,133.00" fill="#8a2be2" fill-opacity="0.8" stroke="#000" stroke-opacity="0.65" stroke-width="0.8"/>
<polygon points="414.84,136.60 420.04,136.60 417.44,141.80" fill="#8a2be2" fill-opacity="0.8" stroke="#000" stroke-opacity="0.65" stroke-width="0.8"/>
<polygon points="435.26,137.50 440.46,137.50 437.86,142.70" fill="#8a2be2" fill-opacity="0.8" stroke="#000" stroke-opacity="0.65" stroke-width="0.8"/>
<polygon points="435.26,138.50 440.46,138.50 437.86,143.70" fill="#8a2be2" fill-opacity="0.8" stroke="#000" stroke-opacity="0.65" stroke-width="0.8"/>
<polygon points="445.47,136.00 450.67,136.00 448.07,141.20" fill="#8a2be2" fill-opacity="0.8" stroke="#000" stroke-opacity="0.65" stroke-width="0.8"/>
<polygon points="486.31,134.10 491.51,134.10 488.91,139.30" fill="#8a2be2" fill-opacity="0.8" stroke="#000" stroke-opacity="0.65" stroke-width="0.8"/>
<polygon points="486.31,140.70 491.51,140.70 488.91,145.90" fill="#8a2be2" fill-opacity="0.8" stroke="#000" stroke-opacity="0.65" stroke-width="0.8"/>
<polygon points="496.52,127.50 501.72,127.50 499.12,132.70" fill="#8a2be2" fill-opacity="0.8" stroke="#000" stroke-opacity="0.65" stroke-width="0.8"/>
<polygon points="496.52,128.40 501.72,128.40 499.12,133.60" fill="#8a2be2" fill-opacity="0.8" stroke="#000" stroke-opacity="0.65" stroke-width="0.8"/>
<polygon points="496.52,129.40 501.72,129.40 499.12,134.60" fill="#8a2be2" fill-opacity="0.8" stroke="#000" stroke-opacity="0.65" stroke-width="0.8"/>
<polygon points="496.52,130.50 501.72,130.50 499.12,135.70" fill="#8a2be2" fill-opacity="0.8" stroke="#000" stroke-opacity="0.65" stroke-width="0.8"/>
<polygon points="496.52,131.50 501.72,131.50 499.12,136.70" fill="#8a2be2" fill-opacity="0.8" stroke="#000" stroke-opacity="0.65" stroke-width="0.8"/>
<polygon points="496.52,132.60 501.72,132.60 499.12,137.80" fill="#8a2be2" fill-opacity="0.8" stroke="#000" stroke-opacity="0.65" stroke-width="0.8"/>
<polygon points="506.73,97.30 511.93,97.30 509.33,102.50" fill="#8a2be2" fill-opacity="0.8" stroke="#000" stroke-opacity="0.65" stroke-width="0.8"/>
<polygon points="537.36,103.90 542.56,103.90 539.96,109.10" fill="#8a2be2" fill-opacity="0.8" stroke="#000" stroke-opacity="0.65" stroke-width="0.8"/>
<polygon points="537.36,122.10 542.56,122.10 539.96,127.30" fill="#8a2be2" fill-opacity="0.8" stroke="#000" stroke-opacity="0.65" stroke-width="0.8"/>
<polygon points="578.20,123.20 583.40,123.20 580.80,128.40" fill="#8a2be2" fill-opacity="0.8" stroke="#000" stroke-opacity="0.65" stroke-width="0.8"/>
<polygon points="578.20,124.10 583.40,124.10 580.80,129.30" fill="#8a2be2" fill-opacity="0.8" stroke="#000" stroke-opacity="0.65" stroke-width="0.8"/>
<polygon points="578.20,124.90 583.40,124.90 580.80,130.10" fill="#8a2be2" fill-opacity="0.8" stroke="#000" stroke-opacity="0.65" stroke-width="0.8"/>
<polygon points="578.20,126.10 583.40,126.10 580.80,131.30" fill="#8a2be2" fill-opacity="0.8" stroke="#000" stroke-opacity="0.65" stroke-width="0.8"/>
<polygon points="578.20,127.40 583.40,127.40 580.80,132.60" fill="#8a2be2" fill-opacity="0.8" stroke="#000" stroke-opacity="0.65" stroke-width="0.8"/>
<polygon points="578.20,128.50 583.40,128.50 580.80,133.70" fill="#8a2be2" fill-opacity="0.8" stroke="#000" stroke-opacity="0.65" stroke-width="0.8"/>
<polygon points="578.20,129.70 583.40,129.70 580.80,134.90" fill="#8a2be2" fill-opacity="0.8" stroke="#000" stroke-opacity="0.65" stroke-width="0.8"/>
<polygon points="598.62,122.40 603.82,122.40 601.22,127.60" fill="#8a2be2" fill-opacity="0.8" stroke="#000" stroke-opacity="0.65" stroke-width="0.8"/>
<rect x="364.5" y="20.5" width="269.40" height="207.90" fill="none" stroke="#4d4d4d" stroke-width="0.9"/>
<line x1="376.60" y1="228.4" x2="376.60" y2="230.4" stroke="#4d4d4d" stroke-width="0.9"/>
<line x1="386.81" y1="228.4" x2="386.81" y2="230.4" stroke="#4d4d4d" stroke-width="0.9"/>
<line x1="397.02" y1="228.4" x2="397.02" y2="230.4" stroke="#4d4d4d" stroke-width="0.9"/>
<line x1="407.23" y1="228.4" x2="407.23" y2="230.4" stroke="#4d4d4d" stroke-width="0.9"/>
<line x1="417.44" y1="228.4" x2="417.44" y2="230.4" stroke="#4d4d4d" stroke-width="0.9"/>
<line x1="427.65" y1="228.4" x2="427.65" y2="230.4" stroke="#4d4d4d" stroke-width="0.9"/>
<line x1="437.86" y1="228.4" x2="437.86" y2="230.4" stroke="#4d4d4d" stroke-width="0.9"/>
<line x1="448.07" y1="228.4" x2="448.07" y2="230.4" stroke="#4d4d4d" stroke-width="0.9"/>
<line x1="458.28" y1="228.4" x2="458.28" y2="230.4" stroke="#4d4d4d" stroke-width="0.9"/>
<line x1="468.49" y1="228.4" x2="468.49" y2="230.4" stroke="#4d4d4d" stroke-width="0.9"/>
<line x1="478.70" y1="228.4" x2="478.70" y2="230.4" stroke="#4d4d4d" stroke-width="0.9"/>
<line x1="488.91" y1="228.4" x2="488.91" y2="230.4" stroke="#4d4d4d" stroke-width="0.9"/>
<line x1="499.12" y1="228.4" x2="499.12" y2="230.4" stroke="#4d4d4d" stroke-width="0.9"/>
<line x1="509.33" y1="228.4" x2="509.33" y2="230.4" stroke="#4d4d4d" stroke-width="0.9"/>
<line x1="519.54" y1="228.4" x2="519.54" y2="230.4" stroke="#4d4d4d" stroke-width="0.9"/>
<line x1="529.75" y1="228.4" x2="529.75" y2="230.4" stroke="#4d4d4d" stroke-width="0.9"/>
<line x1="539.96" y1="228.4" x2="539.96" y2="230.4" stroke="#4d4d4d" stroke-width="0.9"/>
<line x1="550.17" y1="228.4" x2="550.17" y2="230.4" stroke="#4d4d4d" stroke-width="0.9"/>
<line x1="560.38" y1="228.4" x2="560.38" y2="230.4" stroke="#4d4d4d" stroke-width="0.9"/>
<line x1="570.59" y1="228.4" x2="570.59" y2="230.4" stroke="#4d4d4d" stroke-width="0.9"/>
<line x1="580.80" y1="228.4" x2="580.80" y2="230.4" stroke="#4d4d4d" stroke-width="0.9"/>
<line x1="591.01" y1="228.4" x2="591.01" y2="230.4" stroke="#4d4d4d" stroke-width="0.9"/>
<line x1="601.22" y1="228.4" x2="601.22" y2="230.4" stroke="#4d4d4d" stroke-width="0.9"/>
<line x1="611.43" y1="228.4" x2="611.43" y2="230.4" stroke="#4d4d4d" stroke-width="0.9"/>
<line x1="621.64" y1="228.4" x2="621.64" y2="230.4" stroke="#4d4d4d" stroke-width="0.9"/>
<line x1="362.5" y1="207.30" x2="364.5" y2="207.30" stroke="#4d4d4d" stroke-width="0.9"/>
<text x="342.75" y="212.75" font-size="14.12" textLength="18.52" lengthAdjust="spacingAndGlyphs">−2</text>
<line x1="362.5" y1="165.80" x2="364.5" y2="165.80" stroke="#4d4d4d" stroke-width="0.9"/>
<text x="342.64" y="171.25" font-size="14.12" textLength="18.61" lengthAdjust="spacingAndGlyphs">−1</text>
<line x1="362.5" y1="124.30" x2="364.5" y2="124.30" stroke="#4d4d4d" stroke-width="0.9"/>
<text x="353.18" y="129.75" font-size="14.12" textLength="7.81" lengthAdjust="spacingAndGlyphs">0</text>
<line x1="362.5" y1="82.80" x2="364.5" y2="82.80" stroke="#4d4d4d" stroke-width="0.9"/>
<text x="353.64" y="88.25" font-size="14.12" textLength="7.46" lengthAdjust="spacingAndGlyphs">1</text>
<line x1="362.5" y1="41.30" x2="364.5" y2="41.30" stroke="#4d4d4d" stroke-width="0.9"/>
<text x="353.6" y="46.75" font-size="14.12" textLength="7.53" lengthAdjust="spacingAndGlyphs">2</text>
<text transform="translate(379.54,256.08) rotate(-90)" font-size="11.31" textLength="24.59" lengthAdjust="spacingAndGlyphs">Sc-O</text>
<text transform="translate(389.75,253.42) rotate(-90)" font-size="11.31" textLength="21.96" lengthAdjust="spacingAndGlyphs">Ti-O</text>
<text transform="translate(399.96,255.33) rotate(-90)" font-size="11.31" textLength="24.22" lengthAdjust="spacingAndGlyphs">Fe-N</text>
<text transform="translate(410.17,256.76) rotate(-90)" font-size="11.31" textLength="25.66" lengthAdjust="spacingAndGlyphs">Co-H</text>
<text transform="translate(420.38,257.58) rotate(-90)" font-size="11.31" textLength="26.11" lengthAdjust="spacingAndGlyphs">Co-O</text>
<text transform="translate(430.59,253.52) rotate(-90)" font-size="11.31" textLength="21.94" lengthAdjust="spacingAndGlyphs">Ni-C</text>
<text transform="translate(440.8,253.61) rotate(-90)" font-size="11.31" textLength="22.53" lengthAdjust="spacingAndGlyphs">Ni-N</text>
<text transform="translate(451.01,254.47) rotate(-90)" font-size="11.31" textLength="23" lengthAdjust="spacingAndGlyphs">Ni-O</text>
<text transform="translate(461.22,259.3) rotate(-90)" font-size="11.31" textLength="28.03" lengthAdjust="spacingAndGlyphs">Ni-Sn</text>
<text transform="translate(471.43,256.96) rotate(-90)" font-size="11.31" textLength="25.86" lengthAdjust="spacingAndGlyphs">Cu-N</text>
<text transform="translate(481.64,256.19) rotate(-90)" font-size="11.31" textLength="24.69" lengthAdjust="spacingAndGlyphs">Cu-S</text>
<text transform="translate(491.85,250.42) rotate(-90)" font-size="11.31" textLength="18.93" lengthAdjust="spacingAndGlyphs">Y-O</text>
<text transform="translate(502.06,255.23) rotate(-90)" font-size="11.31" textLength="23.79" lengthAdjust="spacingAndGlyphs">Zr-O</text>
<text transform="translate(512.27,259.25) rotate(-90)" font-size="11.31" textLength="27.78" lengthAdjust="spacingAndGlyphs">Mo-O</text>
<text transform="translate(522.48,256.82) rotate(-90)" font-size="11.31" textLength="25.72" lengthAdjust="spacingAndGlyphs">Ru-N</text>
<text transform="translate(532.69,256.74) rotate(-90)" font-size="11.31" textLength="25.15" lengthAdjust="spacingAndGlyphs">Rh-C</text>
<text transform="translate(542.9,257.68) rotate(-90)" font-size="11.31" textLength="26.2" lengthAdjust="spacingAndGlyphs">Rh-O</text>
<text transform="translate(553.11,255.75) rotate(-90)" font-size="11.31" textLength="24.16" lengthAdjust="spacingAndGlyphs">Pd-C</text>
<text transform="translate(563.32,255.83) rotate(-90)" font-size="11.31" textLength="24.72" lengthAdjust="spacingAndGlyphs">Pd-N</text>
<text transform="translate(573.53,256.8) rotate(-90)" font-size="11.31" textLength="25.72" lengthAdjust="spacingAndGlyphs">Ag-N</text>
<text transform="translate(583.74,255.31) rotate(-90)" font-size="11.31" textLength="23.85" lengthAdjust="spacingAndGlyphs">Hf-O</text>
<text transform="translate(593.95,257.47) rotate(-90)" font-size="11.31" textLength="25.99" lengthAdjust="spacingAndGlyphs">Re-O</text>
<text transform="translate(604.16,263.09) rotate(-90)" font-size="11.31" textLength="31.57" lengthAdjust="spacingAndGlyphs">Re-Re</text>
<text transform="translate(614.37,250.34) rotate(-90)" font-size="11.31" textLength="19.28" lengthAdjust="spacingAndGlyphs">Ir-N</text>
<text transform="translate(624.58,253.26) rotate(-90)" font-size="11.31" textLength="22.17" lengthAdjust="spacingAndGlyphs">Pt-N</text>
<text transform="translate(334.7,145.77) rotate(-90)" font-size="14.12" textLength="42.6" lengthAdjust="spacingAndGlyphs">V (eV)</text>
<line x1="115.40" y1="273.8" x2="115.40" y2="462.4" stroke="#eeeeee" stroke-width="0.9"/>
<line x1="50.4" y1="415.25" x2="310.4" y2="415.25" stroke="#eeeeee" stroke-width="0.9"/>
<line x1="180.40" y1="273.8" x2="180.40" y2="462.4" stroke="#eeeeee" stroke-width="0.9"/>
<line x1="50.4" y1="368.10" x2="310.4" y2="368.10" stroke="#eeeeee" stroke-width="0.9"/>
<line x1="245.40" y1="273.8" x2="245.40" y2="462.4" stroke="#eeeeee" stroke-width="0.9"/>
<line x1="50.4" y1="320.95" x2="310.4" y2="320.95" stroke="#eeeeee" stroke-width="0.9"/>
<circle cx="222.43" cy="338.12" r="2.55" fill="#d62728" fill-opacity="0.8" stroke="#000" stroke-opacity="0.65" stroke-width="0.8"/>
<circle cx="157.46" cy="384.67" r="2.55" fill="#d62728" fill-opacity="0.8" stroke="#000" stroke-opacity="0.65" stroke-width="0.8"/>
<circle cx="207.46" cy="349.39" r="2.55" fill="#17becf" fill-opacity="0.8" stroke="#000" stroke-opacity="0.65" stroke-width="0.8"/>
<circle cx="147.74" cy="391.46" r="2.55" fill="#d62728" fill-opacity="0.8" stroke="#000" stroke-opacity="0.65" stroke-width="0.8"/>
<circle cx="216.28" cy="341.54" r="2.55" fill="#d62728" fill-opacity="0.8" stroke="#000" stroke-opacity="0.65" stroke-width="0.8"/>
<circle cx="138.18" cy="399.40" r="2.55" fill="#d62728" fill-opacity="0.8" stroke="#000" stroke-opacity="0.65" stroke-width="0.8"/>
<circle cx="216.80" cy="340.90" r="2.55" fill="#17becf" fill-opacity="0.8" stroke="#000" stroke-opacity="0.65" stroke-width="0.8"/>
<circle cx="165.34" cy="379.68" r="2.55" fill="#d62728" fill-opacity="0.8" stroke="#000" stroke-opacity="0.65" stroke-width="0.8"/>
<circle cx="215.22" cy="342.35" r="2.55" fill="#d62728" fill-opacity="0.8" stroke="#000" stroke-opacity="0.65" stroke-width="0.8"/>
<circle cx="175.14" cy="372.12" r="2.55" fill="#d62728" fill-opacity="0.8" stroke="#000" stroke-opacity="0.65" stroke-width="0.8"/>
<circle cx="168.73" cy="376.08" r="2.55" fill="#d62728" fill-opacity="0.8" stroke="#000" stroke-opacity="0.65" stroke-width="0.8"/>
<circle cx="126.03" cy="407.68" r="2.55" fill="#d62728" fill-opacity="0.8" stroke="#000" stroke-opacity="0.65" stroke-width="0.8"/>
<circle cx="174.57" cy="372.67" r="2.55" fill="#d62728" fill-opacity="0.8" stroke="#000" stroke-opacity="0.65" stroke-width="0.8"/>
<circle cx="203.49" cy="350.85" r="2.55" fill="#d62728" fill-opacity="0.8" stroke="#000" stroke-opacity="0.65" stroke-width="0.8"/>
<circle cx="132.71" cy="402.85" r="2.55" fill="#d62728" fill-opacity="0.8" stroke="#000" stroke-opacity="0.65" stroke-width="0.8"/>
<circle cx="239.59" cy="324.65" r="2.55" fill="#d62728" fill-opacity="0.8" stroke="#000" stroke-opacity="0.65" stroke-width="0.8"/>
<circle cx="177.55" cy="370.67" r="2.55" fill="#d62728" fill-opacity="0.8" stroke="#000" stroke-opacity="0.65" stroke-width="0.8"/>
<circle cx="197.26" cy="356.76" r="2.55" fill="#17becf" fill-opacity="0.8" stroke="#000" stroke-opacity="0.65" stroke-width="0.8"/>
<circle cx="185.77" cy="364.88" r="2.55" fill="#d62728" fill-opacity="0.8" stroke="#000" stroke-opacity="0.65" stroke-width="0.8"/>
<circle cx="207.69" cy="348.34" r="2.55" fill="#d62728" fill-opacity="0.8" stroke="#000" stroke-opacity="0.65" stroke-width="0.8"/>
<circle cx="197.42" cy="354.91" r="2.55" fill="#d62728" fill-opacity="0.8" stroke="#000" stroke-opacity="0.65" stroke-width="0.8"/>
<circle cx="112.85" cy="416.99" r="2.55" fill="#d62728" fill-opacity="0.8" stroke="#000" stroke-opacity="0.65" stroke-width="0.8"/>
<circle cx="183.05" cy="365.37" r="2.55" fill="#d62728" fill-opacity="0.8" stroke="#000" stroke-opacity="0.65" stroke-width="0.8"/>
<circle cx="209.63" cy="346.50" r="2.55" fill="#d62728" fill-opacity="0.8" stroke="#000" stroke-opacity="0.65" stroke-width="0.8"/>
<circle cx="227.27" cy="334.90" r="2.55" fill="#d62728" fill-opacity="0.8" stroke="#000" stroke-opacity="0.65" stroke-width="0.8"/>
<circle cx="217.81" cy="341.68" r="2.55" fill="#d62728" fill-opacity="0.8" stroke="#000" stroke-opacity="0.65" stroke-width="0.8"/>
<circle cx="148.80" cy="391.19" r="2.55" fill="#d62728" fill-opacity="0.8" stroke="#000" stroke-opacity="0.65" stroke-width="0.8"/>
<circle cx="190.65" cy="361.55" r="2.55" fill="#d62728" fill-opacity="0.8" stroke="#000" stroke-opacity="0.65" stroke-width="0.8"/>
<circle cx="120.05" cy="411.69" r="2.55" fill="#d62728" fill-opacity="0.8" stroke="#000" stroke-opacity="0.65" stroke-width="0.8"/>
<circle cx="149.95" cy="390.11" r="2.55" fill="#d62728" fill-opacity="0.8" stroke="#000" stroke-opacity="0.65" stroke-width="0.8"/>
<circle cx="212.78" cy="344.51" r="2.55" fill="#d62728" fill-opacity="0.8" stroke="#000" stroke-opacity="0.65" stroke-width="0.8"/>
<circle cx="226.81" cy="334.25" r="2.55" fill="#d62728" fill-opacity="0.8" stroke="#000" stroke-opacity="0.65" stroke-width="0.8"/>
<circle cx="213.84" cy="344.72" r="2.55" fill="#d62728" fill-opacity="0.8" stroke="#000" stroke-opacity="0.65" stroke-width="0.8"/>
<circle cx="135.93" cy="400.71" r="2.55" fill="#d62728" fill-opacity="0.8" stroke="#000" stroke-opacity="0.65" stroke-width="0.8"/>
<circle cx="219.13" cy="339.97" r="2.55" fill="#d62728" fill-opacity="0.8" stroke="#000" stroke-opacity="0.65" stroke-width="0.8"/>
<circle cx="171.59" cy="374.34" r="2.55" fill="#d62728" fill-opacity="0.8" stroke="#000" stroke-opacity="0.65" stroke-width="0.8"/>
<circle cx="240.04" cy="324.46" r="2.55" fill="#d62728" fill-opacity="0.8" stroke="#000" stroke-opacity="0.65" stroke-width="0.8"/>
<circle cx="165.11" cy="379.14" r="2.55" fill="#1f77b4" fill-opacity="0.8" stroke="#000" stroke-opacity="0.65" stroke-width="0.8"/>
<circle cx="146.29" cy="392.97" r="2.55" fill="#d62728" fill-opacity="0.8" stroke="#000" stroke-opacity="0.65" stroke-width="0.8"/>
<circle cx="166.90" cy="378.59" r="2.55" fill="#d62728" fill-opacity="0.8" stroke="#000" stroke-opacity="0.65" stroke-width="0.8"/>
<circle cx="178.54" cy="369.99" r="2.55" fill="#d62728" fill-opacity="0.8" stroke="#000" stroke-opacity="0.65" stroke-width="0.8"/>
<circle cx="208.90" cy="346.58" r="2.55" fill="#d62728" fill-opacity="0.8" stroke="#000" stroke-opacity="0.65" stroke-width="0.8"/>
<circle cx="220.47" cy="339.33" r="2.55" fill="#d62728" fill-opacity="0.8" stroke="#000" stroke-opacity="0.65" stroke-width="0.8"/>
<circle cx="220.70" cy="339.37" r="2.55" fill="#17becf" fill-opacity="0.8" stroke="#000" stroke-opacity="0.65" stroke-width="0.8"/>
<circle cx="233.29" cy="330.02" r="2.55" fill="#d62728" fill-opacity="0.8" stroke="#000" stroke-opacity="0.65" stroke-width="0.8"/>
<circle cx="144.05" cy="394.77" r="2.55" fill="#d62728" fill-opacity="0.8" stroke="#000" stroke-opacity="0.65" stroke-width="0.8"/>
<circle cx="127.93" cy="405.93" r="2.55" fill="#d62728" fill-opacity="0.8" stroke="#000" stroke-opacity="0.65" stroke-width="0.8"/>
<circle cx="141.94" cy="396.46" r="2.55" fill="#d62728" fill-opacity="0.8" stroke="#000" stroke-opacity="0.65" stroke-width="0.8"/>
<circle cx="159.52" cy="383.73" r="2.55" fill="#d62728" fill-opacity="0.8" stroke="#000" stroke-opacity="0.65" stroke-width="0.8"/>
<circle cx="156.75" cy="385.08" r="2.55" fill="#17becf" fill-opacity="0.8" stroke="#000" stroke-opacity="0.65" stroke-width="0.8"/>
<circle cx="121.87" cy="409.74" r="2.55" fill="#d62728" fill-opacity="0.8" stroke="#000" stroke-opacity="0.65" stroke-width="0.8"/>
<circle cx="167.37" cy="378.45" r="2.55" fill="#17becf" fill-opacity="0.8" stroke="#000" stroke-opacity="0.65" stroke-width="0.8"/>
<circle cx="200.18" cy="353.51" r="2.55" fill="#d62728" fill-opacity="0.8" stroke="#000" stroke-opacity="0.65" stroke-width="0.8"/>
<circle cx="201.51" cy="352.82" r="2.55" fill="#1f77b4" fill-opacity="0.8" stroke="#000" stroke-opacity="0.65" stroke-width="0.8"/>
<circle cx="110.90" cy="418.30" r="2.55" fill="#d62728" fill-opacity="0.8" stroke="#000" stroke-opacity="0.65" stroke-width="0.8"/>
<circle cx="162.57" cy="380.94" r="2.55" fill="#d62728" fill-opacity="0.8" stroke="#000" stroke-opacity="0.65" stroke-width="0.8"/>
<circle cx="153.18" cy="388.21" r="2.55" fill="#d62728" fill-opacity="0.8" stroke="#000" stroke-opacity="0.65" stroke-width="0.8"/>
<circle cx="131.88" cy="403.16" r="2.55" fill="#d62728" fill-opacity="0.8" stroke="#000" stroke-opacity="0.65" stroke-width="0.8"/>
<circle cx="144.33" cy="394.45" r="2.55" fill="#17becf" fill-opacity="0.8" stroke="#000" stroke-opacity="0.65" stroke-width="0.8"/>
<circle cx="142.90" cy="395.28" r="2.55" fill="#d62728" fill-opacity="0.8" stroke="#000" stroke-opacity="0.65" stroke-width="0.8"/>
<circle cx="191.36" cy="360.27" r="2.55" fill="#1f77b4" fill-opacity="0.8" stroke="#000" stroke-opacity="0.65" stroke-width="0.8"/>
<circle cx="196.39" cy="355.87" r="2.55" fill="#d62728" fill-opacity="0.8" stroke="#000" stroke-opacity="0.65" stroke-width="0.8"/>
<circle cx="212.90" cy="345.12" r="2.55" fill="#17becf" fill-opacity="0.8" stroke="#000" stroke-opacity="0.65" stroke-width="0.8"/>
<circle cx="220.64" cy="338.98" r="2.55" fill="#17becf" fill-opacity="0.8" stroke="#000" stroke-opacity="0.65" stroke-width="0.8"/>
<circle cx="234.53" cy="327.96" r="2.55" fill="#d62728" fill-opacity="0.8" stroke="#000" stroke-opacity="0.65" stroke-width="0.8"/>
<circle cx="236.51" cy="327.67" r="2.55" fill="#d62728" fill-opacity="0.8" stroke="#000" stroke-opacity="0.65" stroke-width="0.8"/>
<circle cx="184.84" cy="364.64" r="2.55" fill="#d62728" fill-opacity="0.8" stroke="#000" stroke-opacity="0.65" stroke-width="0.8"/>
<circle cx="194.67" cy="357.14" r="2.55" fill="#d62728" fill-opacity="0.8" stroke="#000" stroke-opacity="0.65" stroke-width="0.8"/>
<circle cx="158.61" cy="383.21" r="2.55" fill="#d62728" fill-opacity="0.8" stroke="#000" stroke-opacity="0.65" stroke-width="0.8"/>
<circle cx="139.75" cy="397.21" r="2.55" fill="#d62728" fill-opacity="0.8" stroke="#000" stroke-opacity="0.65" stroke-width="0.8"/>
<circle cx="198.41" cy="355.90" r="2.55" fill="#d62728" fill-opacity="0.8" stroke="#000" stroke-opacity="0.65" stroke-width="0.8"/>
<circle cx="202.63" cy="352.48" r="2.55" fill="#d62728" fill-opacity="0.8" stroke="#000" stroke-opacity="0.65" stroke-width="0.8"/>
<circle cx="199.76" cy="354.41" r="2.55" fill="#d62728" fill-opacity="0.8" stroke="#000" stroke-opacity="0.65" stroke-width="0.8"/>
<circle cx="231.05" cy="331.91" r="2.55" fill="#d62728" fill-opacity="0.8" stroke="#000" stroke-opacity="0.65" stroke-width="0.8"/>
<circle cx="141.37" cy="395.72" r="2.55" fill="#d62728" fill-opacity="0.8" stroke="#000" stroke-opacity="0.65" stroke-width="0.8"/>
<circle cx="124.90" cy="408.93" r="2.55" fill="#d62728" fill-opacity="0.8" stroke="#000" stroke-opacity="0.65" stroke-width="0.8"/>
<circle cx="224.60" cy="335.44" r="2.55" fill="#17becf" fill-opacity="0.8" stroke="#000" stroke-opacity="0.65" stroke-width="0.8"/>
<circle cx="168.51" cy="376.09" r="2.55" fill="#d62728" fill-opacity="0.8" stroke="#000" stroke-opacity="0.65" stroke-width="0.8"/>
<circle cx="220.00" cy="339.91" r="2.55" fill="#d62728" fill-opacity="0.8" stroke="#000" stroke-opacity="0.65" stroke-width="0.8"/>
<circle cx="182.27" cy="366.65" r="2.55" fill="#17becf" fill-opacity="0.8" stroke="#000" stroke-opacity="0.65" stroke-width="0.8"/>
<circle cx="223.80" cy="337.14" r="2.55" fill="#d62728" fill-opacity="0.8" stroke="#000" stroke-opacity="0.65" stroke-width="0.8"/>
<circle cx="206.21" cy="349.93" r="2.55" fill="#d62728" fill-opacity="0.8" stroke="#000" stroke-opacity="0.65" stroke-width="0.8"/>
<circle cx="156.81" cy="385.51" r="2.55" fill="#d62728" fill-opacity="0.8" stroke="#000" stroke-opacity="0.65" stroke-width="0.8"/>
<circle cx="114.19" cy="415.47" r="2.55" fill="#d62728" fill-opacity="0.8" stroke="#000" stroke-opacity="0.65" stroke-width="0.8"/>
<circle cx="194.87" cy="358.42" r="2.55" fill="#d62728" fill-opacity="0.8" stroke="#000" stroke-opacity="0.65" stroke-width="0.8"/>
<circle cx="171.17" cy="374.37" r="2.55" fill="#d62728" fill-opacity="0.8" stroke="#000" stroke-opacity="0.65" stroke-width="0.8"/>
<circle cx="189.15" cy="361.08" r="2.55" fill="#d62728" fill-opacity="0.8" stroke="#000" stroke-opacity="0.65" stroke-width="0.8"/>
<circle cx="176.32" cy="370.26" r="2.55" fill="#d62728" fill-opacity="0.8" stroke="#000" stroke-opacity="0.65" stroke-width="0.8"/>
<circle cx="187.38" cy="362.41" r="2.55" fill="#d62728" fill-opacity="0.8" stroke="#000" stroke-opacity="0.65" stroke-width="0.8"/>
<circle cx="164.06" cy="380.65" r="2.55" fill="#d62728" fill-opacity="0.8" stroke="#000" stroke-opacity="0.65" stroke-width="0.8"/>
<circle cx="134.19" cy="401.26" r="2.55" fill="#d62728" fill-opacity="0.8" stroke="#000" stroke-opacity="0.65" stroke-width="0.8"/>
<circle cx="161.87" cy="382.21" r="2.55" fill="#d62728" fill-opacity="0.8" stroke="#000" stroke-opacity="0.65" stroke-width="0.8"/>
<circle cx="229.13" cy="332.12" r="2.55" fill="#d62728" fill-opacity="0.8" stroke="#000" stroke-opacity="0.65" stroke-width="0.8"/>
<circle cx="109.75" cy="418.67" r="2.55" fill="#d62728" fill-opacity="0.8" stroke="#000" stroke-opacity="0.65" stroke-width="0.8"/>
<circle cx="207.25" cy="349.06" r="2.55" fill="#d62728" fill-opacity="0.8" stroke="#000" stroke-opacity="0.65" stroke-width="0.8"/>
<circle cx="172.97" cy="373.61" r="2.55" fill="#d62728" fill-opacity="0.8" stroke="#000" stroke-opacity="0.65" stroke-width="0.8"/>
<circle cx="179.06" cy="368.89" r="2.55" fill="#d62728" fill-opacity="0.8" stroke="#000" stroke-opacity="0.65" stroke-width="0.8"/>
<circle cx="238.08" cy="326.93" r="2.55" fill="#d62728" fill-opacity="0.8" stroke="#000" stroke-opacity="0.65" stroke-width="0.8"/>
<circle cx="201.16" cy="353.53" r="2.55" fill="#d62728" fill-opacity="0.8" stroke="#000" stroke-opacity="0.65" stroke-width="0.8"/>
<circle cx="136.52" cy="400.07" r="2.55" fill="#d62728" fill-opacity="0.8" stroke="#000" stroke-opacity="0.65" stroke-width="0.8"/>
<circle cx="225.04" cy="336.26" r="2.55" fill="#d62728" fill-opacity="0.8" stroke="#000" stroke-opacity="0.65" stroke-width="0.8"/>
<circle cx="160.60" cy="382.01" r="2.55" fill="#d62728" fill-opacity="0.8" stroke="#000" stroke-opacity="0.65" stroke-width="0.8"/>
<circle cx="180.75" cy="367.07" r="2.55" fill="#d62728" fill-opacity="0.8" stroke="#000" stroke-opacity="0.65" stroke-width="0.8"/>
<circle cx="118.82" cy="413.58" r="2.55" fill="#d62728" fill-opacity="0.8" stroke="#000" stroke-opacity="0.65" stroke-width="0.8"/>
<circle cx="129.78" cy="404.29" r="2.55" fill="#d62728" fill-opacity="0.8" stroke="#000" stroke-opacity="0.65" stroke-width="0.8"/>
<circle cx="183.72" cy="365.06" r="2.55" fill="#d62728" fill-opacity="0.8" stroke="#000" stroke-opacity="0.65" stroke-width="0.8"/>
<circle cx="193.17" cy="358.41" r="2.55" fill="#d62728" fill-opacity="0.8" stroke="#000" stroke-opacity="0.65" stroke-width="0.8"/>
<circle cx="152.42" cy="388.69" r="2.55" fill="#d62728" fill-opacity="0.8" stroke="#000" stroke-opacity="0.65" stroke-width="0.8"/>
<circle cx="237.11" cy="327.75" r="2.55" fill="#d62728" fill-opacity="0.8" stroke="#000" stroke-opacity="0.65" stroke-width="0.8"/>
<circle cx="193.40" cy="359.37" r="2.55" fill="#17becf" fill-opacity="0.8" stroke="#000" stroke-opacity="0.65" stroke-width="0.8"/>
<circle cx="179.78" cy="368.79" r="2.55" fill="#d62728" fill-opacity="0.8" stroke="#000" stroke-opacity="0.65" stroke-width="0.8"/>
<circle cx="231.31" cy="331.76" r="2.55" fill="#d62728" fill-opacity="0.8" stroke="#000" stroke-opacity="0.65" stroke-width="0.8"/>
<circle cx="123.02" cy="409.35" r="2.55" fill="#d62728" fill-opacity="0.8" stroke="#000" stroke-opacity="0.65" stroke-width="0.8"/>
<circle cx="156.24" cy="385.24" r="2.55" fill="#d62728" fill-opacity="0.8" stroke="#000" stroke-opacity="0.65" stroke-width="0.8"/>
<circle cx="209.65" cy="346.38" r="2.55" fill="#17becf" fill-opacity="0.8" stroke="#000" stroke-opacity="0.65" stroke-width="0.8"/>
<circle cx="169.80" cy="375.76" r="2.55" fill="#d62728" fill-opacity="0.8" stroke="#000" stroke-opacity="0.65" stroke-width="0.8"/>
<circle cx="233.68" cy="329.54" r="2.55" fill="#d62728" fill-opacity="0.8" stroke="#000" stroke-opacity="0.65" stroke-width="0.8"/>
<circle cx="129.11" cy="404.52" r="2.55" fill="#d62728" fill-opacity="0.8" stroke="#000" stroke-opacity="0.65" stroke-width="0.8"/>
<circle cx="145.37" cy="394.11" r="2.55" fill="#1f77b4" fill-opacity="0.8" stroke="#000" stroke-opacity="0.65" stroke-width="0.8"/>
<circle cx="151.59" cy="389.80" r="2.55" fill="#d62728" fill-opacity="0.8" stroke="#000" stroke-opacity="0.65" stroke-width="0.8"/>
<circle cx="181.91" cy="366.40" r="2.55" fill="#d62728" fill-opacity="0.8" stroke="#000" stroke-opacity="0.65" stroke-width="0.8"/>
<circle cx="123.39" cy="408.77" r="2.55" fill="#d62728" fill-opacity="0.8" stroke="#000" stroke-opacity="0.65" stroke-width="0.8"/>
<circle cx="210.96" cy="346.28" r="2.55" fill="#d62728" fill-opacity="0.8" stroke="#000" stroke-opacity="0.65" stroke-width="0.8"/>
<circle cx="115.95" cy="415.44" r="2.55" fill="#d62728" fill-opacity="0.8" stroke="#000" stroke-opacity="0.65" stroke-width="0.8"/>
<circle cx="111.58" cy="418.04" r="2.55" fill="#d62728" fill-opacity="0.8" stroke="#000" stroke-opacity="0.65" stroke-width="0.8"/>
<circle cx="223.34" cy="336.91" r="2.55" fill="#d62728" fill-opacity="0.8" stroke="#000" stroke-opacity="0.65" stroke-width="0.8"/>
<circle cx="214.94" cy="342.80" r="2.55" fill="#d62728" fill-opacity="0.8" stroke="#000" stroke-opacity="0.65" stroke-width="0.8"/>
<circle cx="135.84" cy="399.79" r="2.55" fill="#1f77b4" fill-opacity="0.8" stroke="#000" stroke-opacity="0.65" stroke-width="0.8"/>
<circle cx="188.02" cy="362.30" r="2.55" fill="#d62728" fill-opacity="0.8" stroke="#000" stroke-opacity="0.65" stroke-width="0.8"/>
<circle cx="116.86" cy="413.69" r="2.55" fill="#d62728" fill-opacity="0.8" stroke="#000" stroke-opacity="0.65" stroke-width="0.8"/>
<circle cx="165.80" cy="378.54" r="2.55" fill="#d62728" fill-opacity="0.8" stroke="#000" stroke-opacity="0.65" stroke-width="0.8"/>
<circle cx="191.27" cy="360.19" r="2.55" fill="#d62728" fill-opacity="0.8" stroke="#000" stroke-opacity="0.65" stroke-width="0.8"/>
<circle cx="108.02" cy="420.04" r="2.55" fill="#d62728" fill-opacity="0.8" stroke="#000" stroke-opacity="0.65" stroke-width="0.8"/>
<circle cx="155.05" cy="387.37" r="2.55" fill="#d62728" fill-opacity="0.8" stroke="#000" stroke-opacity="0.65" stroke-width="0.8"/>
<circle cx="191.90" cy="359.04" r="2.55" fill="#d62728" fill-opacity="0.8" stroke="#000" stroke-opacity="0.65" stroke-width="0.8"/>
<circle cx="233.09" cy="328.82" r="2.55" fill="#17becf" fill-opacity="0.8" stroke="#000" stroke-opacity="0.65" stroke-width="0.8"/>
<circle cx="205.09" cy="351.07" r="2.55" fill="#d62728" fill-opacity="0.8" stroke="#000" stroke-opacity="0.65" stroke-width="0.8"/>
<circle cx="228.70" cy="332.47" r="2.55" fill="#d62728" fill-opacity="0.8" stroke="#000" stroke-opacity="0.65" stroke-width="0.8"/>
<circle cx="56.00" cy="441.90" r="2.55" fill="#1f77b4" fill-opacity="0.8" stroke="#000" stroke-opacity="0.65" stroke-width="0.8"/>
<circle cx="61.70" cy="443.40" r="2.55" fill="#1f77b4" fill-opacity="0.8" stroke="#000" stroke-opacity="0.65" stroke-width="0.8"/>
<circle cx="73.60" cy="428.50" r="2.55" fill="#1f77b4" fill-opacity="0.8" stroke="#000" stroke-opacity="0.65" stroke-width="0.8"/>
<circle cx="116.90" cy="417.50" r="2.55" fill="#1f77b4" fill-opacity="0.8" stroke="#000" stroke-opacity="0.65" stroke-width="0.8"/>
<circle cx="123.40" cy="444.80" r="2.55" fill="#1f77b4" fill-opacity="0.8" stroke="#000" stroke-opacity="0.65" stroke-width="0.8"/>
<circle cx="140.50" cy="427.20" r="2.55" fill="#1f77b4" fill-opacity="0.8" stroke="#000" stroke-opacity="0.65" stroke-width="0.8"/>
<circle cx="152.30" cy="422.60" r="2.55" fill="#1f77b4" fill-opacity="0.8" stroke="#000" stroke-opacity="0.65" stroke-width="0.8"/>
<circle cx="164.30" cy="423.40" r="2.55" fill="#1f77b4" fill-opacity="0.8" stroke="#000" stroke-opacity="0.65" stroke-width="0.8"/>
<circle cx="157.40" cy="398.00" r="2.55" fill="#1f77b4" fill-opacity="0.8" stroke="#000" stroke-opacity="0.65" stroke-width="0.8"/>
<circle cx="177.70" cy="397.40" r="2.55" fill="#1f77b4" fill-opacity="0.8" stroke="#000" stroke-opacity="0.65" stroke-width="0.8"/>
<circle cx="184.00" cy="403.60" r="2.55" fill="#1f77b4" fill-opacity="0.8" stroke="#000" stroke-opacity="0.65" stroke-width="0.8"/>
<circle cx="182.40" cy="409.30" r="2.55" fill="#1f77b4" fill-opacity="0.8" stroke="#000" stroke-opacity="0.65" stroke-width="0.8"/>
<circle cx="196.00" cy="385.00" r="2.55" fill="#1f77b4" fill-opacity="0.8" stroke="#000" stroke-opacity="0.65" stroke-width="0.8"/>
<circle cx="200.80" cy="401.80" r="2.55" fill="#1f77b4" fill-opacity="0.8" stroke="#000" stroke-opacity="0.65" stroke-width="0.8"/>
<circle cx="206.90" cy="374.00" r="2.55" fill="#1f77b4" fill-opacity="0.8" stroke="#000" stroke-opacity="0.65" stroke-width="0.8"/>
<circle cx="219.30" cy="400.80" r="2.55" fill="#1f77b4" fill-opacity="0.8" stroke="#000" stroke-opacity="0.65" stroke-width="0.8"/>
<circle cx="222.00" cy="405.70" r="2.55" fill="#1f77b4" fill-opacity="0.8" stroke="#000" stroke-opacity="0.65" stroke-width="0.8"/>
<circle cx="242.60" cy="359.70" r="2.55" fill="#1f77b4" fill-opacity="0.8" stroke="#000" stroke-opacity="0.65" stroke-width="0.8"/>
<circle cx="252.30" cy="365.00" r="2.55" fill="#1f77b4" fill-opacity="0.8" stroke="#000" stroke-opacity="0.65" stroke-width="0.8"/>
<circle cx="269.10" cy="362.60" r="2.55" fill="#1f77b4" fill-opacity="0.8" stroke="#000" stroke-opacity="0.65" stroke-width="0.8"/>
<circle cx="236.70" cy="388.20" r="2.55" fill="#1f77b4" fill-opacity="0.8" stroke="#000" stroke-opacity="0.65" stroke-width="0.8"/>
<circle cx="272.80" cy="393.00" r="2.55" fill="#1f77b4" fill-opacity="0.8" stroke="#000" stroke-opacity="0.65" stroke-width="0.8"/>
<circle cx="248.50" cy="410.00" r="2.55" fill="#1f77b4" fill-opacity="0.8" stroke="#000" stroke-opacity="0.65" stroke-width="0.8"/>
<circle cx="287.80" cy="312.60" r="2.55" fill="#1f77b4" fill-opacity="0.8" stroke="#000" stroke-opacity="0.65" stroke-width="0.8"/>
<circle cx="260.10" cy="317.90" r="2.55" fill="#1f77b4" fill-opacity="0.8" stroke="#000" stroke-opacity="0.65" stroke-width="0.8"/>
<circle cx="255.50" cy="320.80" r="2.55" fill="#1f77b4" fill-opacity="0.8" stroke="#000" stroke-opacity="0.65" stroke-width="0.8"/>
<circle cx="259.90" cy="318.10" r="2.55" fill="#1f77b4" fill-opacity="0.8" stroke="#000" stroke-opacity="0.65" stroke-width="0.8"/>
<circle cx="127.40" cy="404.70" r="2.55" fill="#1f77b4" fill-opacity="0.8" stroke="#000" stroke-opacity="0.65" stroke-width="0.8"/>
<circle cx="160.50" cy="385.30" r="2.55" fill="#1f77b4" fill-opacity="0.8" stroke="#000" stroke-opacity="0.65" stroke-width="0.8"/>
<circle cx="63.10" cy="452.30" r="2.55" fill="#d62728" fill-opacity="0.8" stroke="#000" stroke-opacity="0.65" stroke-width="0.8"/>
<circle cx="82.40" cy="442.00" r="2.55" fill="#d62728" fill-opacity="0.8" stroke="#000" stroke-opacity="0.65" stroke-width="0.8"/>
<circle cx="84.30" cy="441.90" r="2.55" fill="#d62728" fill-opacity="0.8" stroke="#000" stroke-opacity="0.65" stroke-width="0.8"/>
<circle cx="87.70" cy="439.10" r="2.55" fill="#d62728" fill-opacity="0.8" stroke="#000" stroke-opacity="0.65" stroke-width="0.8"/>
<circle cx="141.60" cy="418.30" r="2.55" fill="#d62728" fill-opacity="0.8" stroke="#000" stroke-opacity="0.65" stroke-width="0.8"/>
<circle cx="172.30" cy="369.90" r="2.55" fill="#d62728" fill-opacity="0.8" stroke="#000" stroke-opacity="0.65" stroke-width="0.8"/>
<circle cx="180.80" cy="379.70" r="2.55" fill="#d62728" fill-opacity="0.8" stroke="#000" stroke-opacity="0.65" stroke-width="0.8"/>
<circle cx="209.90" cy="370.70" r="2.55" fill="#d62728" fill-opacity="0.8" stroke="#000" stroke-opacity="0.65" stroke-width="0.8"/>
<circle cx="247.70" cy="329.00" r="2.55" fill="#d62728" fill-opacity="0.8" stroke="#000" stroke-opacity="0.65" stroke-width="0.8"/>
<circle cx="263.00" cy="308.00" r="2.55" fill="#d62728" fill-opacity="0.8" stroke="#000" stroke-opacity="0.65" stroke-width="0.8"/>
<circle cx="263.30" cy="307.60" r="2.55" fill="#d62728" fill-opacity="0.8" stroke="#000" stroke-opacity="0.65" stroke-width="0.8"/>
<circle cx="247.20" cy="317.40" r="2.55" fill="#d62728" fill-opacity="0.8" stroke="#000" stroke-opacity="0.65" stroke-width="0.8"/>
<circle cx="242.80" cy="318.90" r="2.55" fill="#d62728" fill-opacity="0.8" stroke="#000" stroke-opacity="0.65" stroke-width="0.8"/>
<circle cx="120.20" cy="431.50" r="2.55" fill="#9467bd" fill-opacity="0.8" stroke="#000" stroke-opacity="0.65" stroke-width="0.8"/>
<circle cx="125.90" cy="436.80" r="2.55" fill="#9467bd" fill-opacity="0.8" stroke="#000" stroke-opacity="0.65" stroke-width="0.8"/>
<circle cx="116.40" cy="445.50" r="2.55" fill="#9467bd" fill-opacity="0.8" stroke="#000" stroke-opacity="0.65" stroke-width="0.8"/>
<circle cx="181.80" cy="392.80" r="2.55" fill="#9467bd" fill-opacity="0.8" stroke="#000" stroke-opacity="0.65" stroke-width="0.8"/>
<circle cx="183.50" cy="411.60" r="2.55" fill="#9467bd" fill-opacity="0.8" stroke="#000" stroke-opacity="0.65" stroke-width="0.8"/>
<circle cx="205.60" cy="362.00" r="2.55" fill="#9467bd" fill-opacity="0.8" stroke="#000" stroke-opacity="0.65" stroke-width="0.8"/>
<circle cx="213.80" cy="374.50" r="2.55" fill="#9467bd" fill-opacity="0.8" stroke="#000" stroke-opacity="0.65" stroke-width="0.8"/>
<circle cx="217.20" cy="382.70" r="2.55" fill="#9467bd" fill-opacity="0.8" stroke="#000" stroke-opacity="0.65" stroke-width="0.8"/>
<circle cx="221.40" cy="345.30" r="2.55" fill="#9467bd" fill-opacity="0.8" stroke="#000" stroke-opacity="0.65" stroke-width="0.8"/>
<circle cx="228.80" cy="343.30" r="2.55" fill="#9467bd" fill-opacity="0.8" stroke="#000" stroke-opacity="0.65" stroke-width="0.8"/>
<circle cx="231.90" cy="355.60" r="2.55" fill="#9467bd" fill-opacity="0.8" stroke="#000" stroke-opacity="0.65" stroke-width="0.8"/>
<circle cx="247.50" cy="370.00" r="2.55" fill="#9467bd" fill-opacity="0.8" stroke="#000" stroke-opacity="0.65" stroke-width="0.8"/>
<circle cx="238.90" cy="378.30" r="2.55" fill="#9467bd" fill-opacity="0.8" stroke="#000" stroke-opacity="0.65" stroke-width="0.8"/>
<circle cx="254.80" cy="335.80" r="2.55" fill="#9467bd" fill-opacity="0.8" stroke="#000" stroke-opacity="0.65" stroke-width="0.8"/>
<circle cx="260.80" cy="314.40" r="2.55" fill="#9467bd" fill-opacity="0.8" stroke="#000" stroke-opacity="0.65" stroke-width="0.8"/>
<circle cx="112.30" cy="412.40" r="2.55" fill="#17becf" fill-opacity="0.8" stroke="#000" stroke-opacity="0.65" stroke-width="0.8"/>
<circle cx="119.60" cy="423.30" r="2.55" fill="#17becf" fill-opacity="0.8" stroke="#000" stroke-opacity="0.65" stroke-width="0.8"/>
<circle cx="161.40" cy="377.70" r="2.55" fill="#17becf" fill-opacity="0.8" stroke="#000" stroke-opacity="0.65" stroke-width="0.8"/>
<circle cx="185.50" cy="360.50" r="2.55" fill="#17becf" fill-opacity="0.8" stroke="#000" stroke-opacity="0.65" stroke-width="0.8"/>
<circle cx="178.20" cy="368.50" r="2.55" fill="#17becf" fill-opacity="0.8" stroke="#000" stroke-opacity="0.65" stroke-width="0.8"/>
<circle cx="233.30" cy="353.20" r="2.55" fill="#17becf" fill-opacity="0.8" stroke="#000" stroke-opacity="0.65" stroke-width="0.8"/>
<circle cx="229.00" cy="328.40" r="2.55" fill="#17becf" fill-opacity="0.8" stroke="#000" stroke-opacity="0.65" stroke-width="0.8"/>
<circle cx="212.40" cy="341.30" r="2.55" fill="#17becf" fill-opacity="0.8" stroke="#000" stroke-opacity="0.65" stroke-width="0.8"/>
<circle cx="151.40" cy="388.00" r="2.55" fill="#17becf" fill-opacity="0.8" stroke="#000" stroke-opacity="0.65" stroke-width="0.8"/>
<circle cx="144.40" cy="393.20" r="2.55" fill="#17becf" fill-opacity="0.8" stroke="#000" stroke-opacity="0.65" stroke-width="0.8"/>
<circle cx="124.50" cy="407.20" r="2.55" fill="#17becf" fill-opacity="0.8" stroke="#000" stroke-opacity="0.65" stroke-width="0.8"/>
<circle cx="143.20" cy="393.60" r="2.55" fill="#17becf" fill-opacity="0.8" stroke="#000" stroke-opacity="0.65" stroke-width="0.8"/>
<circle cx="281.10" cy="298.00" r="2.55" fill="#2ca02c" fill-opacity="0.8" stroke="#000" stroke-opacity="0.65" stroke-width="0.8"/>
<circle cx="252.00" cy="317.40" r="2.55" fill="#2ca02c" fill-opacity="0.8" stroke="#000" stroke-opacity="0.65" stroke-width="0.8"/>
<line x1="50.40" y1="462.40" x2="310.40" y2="273.80" stroke="#ff0000" stroke-opacity="0.85" stroke-width="1" stroke-dasharray="2.2 1.4"/>
<polyline points="50.4,462.4 310.4,462.4 310.4,273.8 50.4,273.8" fill="none" stroke="#b8b8b8" stroke-width="1.4"/>
<line x1="50.4" y1="273.8" x2="50.4" y2="462.4" stroke="#4d4d4d" stroke-width="0.9"/>
<line x1="50.40" y1="462.4" x2="50.40" y2="464.4" stroke="#4d4d4d" stroke-width="0.9"/>
<line x1="48.4" y1="462.40" x2="50.4" y2="462.40" stroke="#4d4d4d" stroke-width="0.9"/>
<text x="46.29" y="476.1" font-size="14.12" textLength="7.81" lengthAdjust="spacingAndGlyphs">0</text>
<text x="39.13" y="467.8" font-size="14.12" textLength="7.81" lengthAdjust="spacingAndGlyphs">0</text>
<line x1="115.40" y1="462.4" x2="115.40" y2="464.4" stroke="#4d4d4d" stroke-width="0.9"/>
<line x1="48.4" y1="415.25" x2="50.4" y2="415.25" stroke="#4d4d4d" stroke-width="0.9"/>
<text x="111.28" y="476.1" font-size="14.12" textLength="7.46" lengthAdjust="spacingAndGlyphs">1</text>
<text x="39.59" y="420.65" font-size="14.12" textLength="7.46" lengthAdjust="spacingAndGlyphs">1</text>
<line x1="180.40" y1="462.4" x2="180.40" y2="464.4" stroke="#4d4d4d" stroke-width="0.9"/>
<line x1="48.4" y1="368.10" x2="50.4" y2="368.10" stroke="#4d4d4d" stroke-width="0.9"/>
<text x="176.43" y="476.1" font-size="14.12" textLength="7.53" lengthAdjust="spacingAndGlyphs">2</text>
<text x="39.55" y="373.5" font-size="14.12" textLength="7.53" lengthAdjust="spacingAndGlyphs">2</text>
<line x1="245.40" y1="462.4" x2="245.40" y2="464.4" stroke="#4d4d4d" stroke-width="0.9"/>
<line x1="48.4" y1="320.95" x2="50.4" y2="320.95" stroke="#4d4d4d" stroke-width="0.9"/>
<text x="241.49" y="476.1" font-size="14.12" textLength="7.51" lengthAdjust="spacingAndGlyphs">3</text>
<text x="39.49" y="326.35" font-size="14.12" textLength="7.51" lengthAdjust="spacingAndGlyphs">3</text>
<line x1="310.40" y1="462.4" x2="310.40" y2="464.4" stroke="#4d4d4d" stroke-width="0.9"/>
<line x1="48.4" y1="273.80" x2="50.4" y2="273.80" stroke="#4d4d4d" stroke-width="0.9"/>
<text x="306.34" y="476.1" font-size="14.12" textLength="7.82" lengthAdjust="spacingAndGlyphs">4</text>
<text x="39" y="279.2" font-size="14.12" textLength="7.82" lengthAdjust="spacingAndGlyphs">4</text>
<text x="135.85" y="492.6" font-size="14.12" textLength="7.71" lengthAdjust="spacingAndGlyphs">E</text>
<text x="144.55" y="496.4" font-size="9.89" textLength="6.01" lengthAdjust="spacingAndGlyphs">g</text>
<text x="144.34" y="487.6" font-size="9.89" textLength="47.01" lengthAdjust="spacingAndGlyphs">DFT+U+V</text>
<text x="197" y="492.6" font-size="14.12" textLength="27.54" lengthAdjust="spacingAndGlyphs">(eV)</text>
<text transform="translate(30.4,397.25) rotate(-90)" font-size="14.12" textLength="7.71" lengthAdjust="spacingAndGlyphs">E</text>
<text transform="translate(34.5,388.55) rotate(-90)" font-size="9.89" textLength="6.01" lengthAdjust="spacingAndGlyphs">g</text>
<text transform="translate(25.4,388.67) rotate(-90)" font-size="9.89" textLength="18.35" lengthAdjust="spacingAndGlyphs">DFT</text>
<text transform="translate(30.4,365.34) rotate(-90)" font-size="14.12" textLength="27.54" lengthAdjust="spacingAndGlyphs">(eV)</text>
<circle cx="76.30" cy="292.60" r="2.55" fill="#1f77b4" fill-opacity="0.8" stroke="#000" stroke-opacity="0.65" stroke-width="0.8"/>
<text x="100.91" y="296.6" font-size="14.25" textLength="104.36" lengthAdjust="spacingAndGlyphs">Fe, Co, Ni or Cu</text>
<circle cx="76.30" cy="312.45" r="2.55" fill="#d62728" fill-opacity="0.8" stroke="#000" stroke-opacity="0.65" stroke-width="0.8"/>
<text x="100.88" y="316.3" font-size="14.25" textLength="83.45" lengthAdjust="spacingAndGlyphs">Ru, Mo or Zr</text>
<circle cx="76.30" cy="332.30" r="2.55" fill="#9467bd" fill-opacity="0.8" stroke="#000" stroke-opacity="0.65" stroke-width="0.8"/>
<text x="100.91" y="336" font-size="14.25" textLength="82.78" lengthAdjust="spacingAndGlyphs">Pd, Ag or Rh</text>
<circle cx="76.30" cy="352.15" r="2.55" fill="#17becf" fill-opacity="0.8" stroke="#000" stroke-opacity="0.65" stroke-width="0.8"/>
<text x="100.87" y="355.7" font-size="14.25" textLength="68.29" lengthAdjust="spacingAndGlyphs">Hf, Ir or Pt</text>
<line x1="430.60" y1="273.8" x2="430.60" y2="462.4" stroke="#eeeeee" stroke-width="0.9"/>
<line x1="365.6" y1="415.25" x2="625.6" y2="415.25" stroke="#eeeeee" stroke-width="0.9"/>
<line x1="495.60" y1="273.8" x2="495.60" y2="462.4" stroke="#eeeeee" stroke-width="0.9"/>
<line x1="365.6" y1="368.10" x2="625.6" y2="368.10" stroke="#eeeeee" stroke-width="0.9"/>
<line x1="560.60" y1="273.8" x2="560.60" y2="462.4" stroke="#eeeeee" stroke-width="0.9"/>
<line x1="365.6" y1="320.95" x2="625.6" y2="320.95" stroke="#eeeeee" stroke-width="0.9"/>
<circle cx="445.92" cy="404.56" r="2.55" fill="#d62728" fill-opacity="0.8" stroke="#000" stroke-opacity="0.65" stroke-width="0.8"/>
<circle cx="467.82" cy="388.69" r="2.55" fill="#d62728" fill-opacity="0.8" stroke="#000" stroke-opacity="0.65" stroke-width="0.8"/>
<circle cx="515.16" cy="354.33" r="2.55" fill="#d62728" fill-opacity="0.8" stroke="#000" stroke-opacity="0.65" stroke-width="0.8"/>
<circle cx="444.66" cy="405.34" r="2.55" fill="#d62728" fill-opacity="0.8" stroke="#000" stroke-opacity="0.65" stroke-width="0.8"/>
<circle cx="499.99" cy="365.64" r="2.55" fill="#d62728" fill-opacity="0.8" stroke="#000" stroke-opacity="0.65" stroke-width="0.8"/>
<circle cx="521.07" cy="349.26" r="2.55" fill="#d62728" fill-opacity="0.8" stroke="#000" stroke-opacity="0.65" stroke-width="0.8"/>
<circle cx="461.70" cy="393.17" r="2.55" fill="#d62728" fill-opacity="0.8" stroke="#000" stroke-opacity="0.65" stroke-width="0.8"/>
<circle cx="536.26" cy="337.60" r="2.55" fill="#17becf" fill-opacity="0.8" stroke="#000" stroke-opacity="0.65" stroke-width="0.8"/>
<circle cx="470.75" cy="385.33" r="2.55" fill="#d62728" fill-opacity="0.8" stroke="#000" stroke-opacity="0.65" stroke-width="0.8"/>
<circle cx="435.35" cy="412.03" r="2.55" fill="#d62728" fill-opacity="0.8" stroke="#000" stroke-opacity="0.65" stroke-width="0.8"/>
<circle cx="540.94" cy="335.22" r="2.55" fill="#d62728" fill-opacity="0.8" stroke="#000" stroke-opacity="0.65" stroke-width="0.8"/>
<circle cx="498.17" cy="367.00" r="2.55" fill="#d62728" fill-opacity="0.8" stroke="#000" stroke-opacity="0.65" stroke-width="0.8"/>
<circle cx="525.60" cy="345.74" r="2.55" fill="#d62728" fill-opacity="0.8" stroke="#000" stroke-opacity="0.65" stroke-width="0.8"/>
<circle cx="508.20" cy="358.51" r="2.55" fill="#d62728" fill-opacity="0.8" stroke="#000" stroke-opacity="0.65" stroke-width="0.8"/>
<circle cx="543.27" cy="333.11" r="2.55" fill="#d62728" fill-opacity="0.8" stroke="#000" stroke-opacity="0.65" stroke-width="0.8"/>
<circle cx="533.08" cy="340.45" r="2.55" fill="#d62728" fill-opacity="0.8" stroke="#000" stroke-opacity="0.65" stroke-width="0.8"/>
<circle cx="488.38" cy="374.03" r="2.55" fill="#d62728" fill-opacity="0.8" stroke="#000" stroke-opacity="0.65" stroke-width="0.8"/>
<circle cx="536.20" cy="339.10" r="2.55" fill="#d62728" fill-opacity="0.8" stroke="#000" stroke-opacity="0.65" stroke-width="0.8"/>
<circle cx="486.81" cy="375.05" r="2.55" fill="#d62728" fill-opacity="0.8" stroke="#000" stroke-opacity="0.65" stroke-width="0.8"/>
<circle cx="500.64" cy="364.21" r="2.55" fill="#d62728" fill-opacity="0.8" stroke="#000" stroke-opacity="0.65" stroke-width="0.8"/>
<circle cx="479.76" cy="378.72" r="2.55" fill="#d62728" fill-opacity="0.8" stroke="#000" stroke-opacity="0.65" stroke-width="0.8"/>
<circle cx="511.64" cy="357.16" r="2.55" fill="#d62728" fill-opacity="0.8" stroke="#000" stroke-opacity="0.65" stroke-width="0.8"/>
<circle cx="506.95" cy="359.48" r="2.55" fill="#d62728" fill-opacity="0.8" stroke="#000" stroke-opacity="0.65" stroke-width="0.8"/>
<circle cx="457.63" cy="395.64" r="2.55" fill="#d62728" fill-opacity="0.8" stroke="#000" stroke-opacity="0.65" stroke-width="0.8"/>
<circle cx="539.99" cy="336.74" r="2.55" fill="#d62728" fill-opacity="0.8" stroke="#000" stroke-opacity="0.65" stroke-width="0.8"/>
<circle cx="534.38" cy="340.09" r="2.55" fill="#d62728" fill-opacity="0.8" stroke="#000" stroke-opacity="0.65" stroke-width="0.8"/>
<circle cx="550.26" cy="328.61" r="2.55" fill="#d62728" fill-opacity="0.8" stroke="#000" stroke-opacity="0.65" stroke-width="0.8"/>
<circle cx="518.05" cy="351.43" r="2.55" fill="#d62728" fill-opacity="0.8" stroke="#000" stroke-opacity="0.65" stroke-width="0.8"/>
<circle cx="438.62" cy="409.96" r="2.55" fill="#d62728" fill-opacity="0.8" stroke="#000" stroke-opacity="0.65" stroke-width="0.8"/>
<circle cx="519.71" cy="350.56" r="2.55" fill="#d62728" fill-opacity="0.8" stroke="#000" stroke-opacity="0.65" stroke-width="0.8"/>
<circle cx="530.90" cy="341.94" r="2.55" fill="#d62728" fill-opacity="0.8" stroke="#000" stroke-opacity="0.65" stroke-width="0.8"/>
<circle cx="504.21" cy="361.45" r="2.55" fill="#d62728" fill-opacity="0.8" stroke="#000" stroke-opacity="0.65" stroke-width="0.8"/>
<circle cx="485.05" cy="375.11" r="2.55" fill="#d62728" fill-opacity="0.8" stroke="#000" stroke-opacity="0.65" stroke-width="0.8"/>
<circle cx="465.02" cy="389.65" r="2.55" fill="#d62728" fill-opacity="0.8" stroke="#000" stroke-opacity="0.65" stroke-width="0.8"/>
<circle cx="513.86" cy="355.64" r="2.55" fill="#d62728" fill-opacity="0.8" stroke="#000" stroke-opacity="0.65" stroke-width="0.8"/>
<circle cx="503.26" cy="362.29" r="2.55" fill="#d62728" fill-opacity="0.8" stroke="#000" stroke-opacity="0.65" stroke-width="0.8"/>
<circle cx="451.17" cy="400.74" r="2.55" fill="#d62728" fill-opacity="0.8" stroke="#000" stroke-opacity="0.65" stroke-width="0.8"/>
<circle cx="548.66" cy="329.03" r="2.55" fill="#17becf" fill-opacity="0.8" stroke="#000" stroke-opacity="0.65" stroke-width="0.8"/>
<circle cx="482.83" cy="376.50" r="2.55" fill="#17becf" fill-opacity="0.8" stroke="#000" stroke-opacity="0.65" stroke-width="0.8"/>
<circle cx="463.92" cy="391.34" r="2.55" fill="#d62728" fill-opacity="0.8" stroke="#000" stroke-opacity="0.65" stroke-width="0.8"/>
<circle cx="491.96" cy="370.79" r="2.55" fill="#17becf" fill-opacity="0.8" stroke="#000" stroke-opacity="0.65" stroke-width="0.8"/>
<circle cx="547.52" cy="329.59" r="2.55" fill="#d62728" fill-opacity="0.8" stroke="#000" stroke-opacity="0.65" stroke-width="0.8"/>
<circle cx="474.48" cy="383.45" r="2.55" fill="#d62728" fill-opacity="0.8" stroke="#000" stroke-opacity="0.65" stroke-width="0.8"/>
<circle cx="528.40" cy="344.30" r="2.55" fill="#d62728" fill-opacity="0.8" stroke="#000" stroke-opacity="0.65" stroke-width="0.8"/>
<circle cx="526.45" cy="345.19" r="2.55" fill="#d62728" fill-opacity="0.8" stroke="#000" stroke-opacity="0.65" stroke-width="0.8"/>
<circle cx="469.51" cy="387.74" r="2.55" fill="#17becf" fill-opacity="0.8" stroke="#000" stroke-opacity="0.65" stroke-width="0.8"/>
<circle cx="497.75" cy="367.15" r="2.55" fill="#d62728" fill-opacity="0.8" stroke="#000" stroke-opacity="0.65" stroke-width="0.8"/>
<circle cx="469.95" cy="386.83" r="2.55" fill="#d62728" fill-opacity="0.8" stroke="#000" stroke-opacity="0.65" stroke-width="0.8"/>
<circle cx="496.72" cy="366.39" r="2.55" fill="#d62728" fill-opacity="0.8" stroke="#000" stroke-opacity="0.65" stroke-width="0.8"/>
<circle cx="518.51" cy="352.25" r="2.55" fill="#d62728" fill-opacity="0.8" stroke="#000" stroke-opacity="0.65" stroke-width="0.8"/>
<circle cx="516.72" cy="353.23" r="2.55" fill="#d62728" fill-opacity="0.8" stroke="#000" stroke-opacity="0.65" stroke-width="0.8"/>
<circle cx="450.10" cy="400.87" r="2.55" fill="#17becf" fill-opacity="0.8" stroke="#000" stroke-opacity="0.65" stroke-width="0.8"/>
<circle cx="472.18" cy="385.40" r="2.55" fill="#d62728" fill-opacity="0.8" stroke="#000" stroke-opacity="0.65" stroke-width="0.8"/>
<circle cx="476.56" cy="382.62" r="2.55" fill="#d62728" fill-opacity="0.8" stroke="#000" stroke-opacity="0.65" stroke-width="0.8"/>
<circle cx="493.83" cy="368.74" r="2.55" fill="#d62728" fill-opacity="0.8" stroke="#000" stroke-opacity="0.65" stroke-width="0.8"/>
<circle cx="528.33" cy="344.26" r="2.55" fill="#17becf" fill-opacity="0.8" stroke="#000" stroke-opacity="0.65" stroke-width="0.8"/>
<circle cx="507.35" cy="360.55" r="2.55" fill="#17becf" fill-opacity="0.8" stroke="#000" stroke-opacity="0.65" stroke-width="0.8"/>
<circle cx="433.58" cy="413.18" r="2.55" fill="#d62728" fill-opacity="0.8" stroke="#000" stroke-opacity="0.65" stroke-width="0.8"/>
<circle cx="475.82" cy="382.39" r="2.55" fill="#d62728" fill-opacity="0.8" stroke="#000" stroke-opacity="0.65" stroke-width="0.8"/>
<circle cx="492.91" cy="369.96" r="2.55" fill="#d62728" fill-opacity="0.8" stroke="#000" stroke-opacity="0.65" stroke-width="0.8"/>
<circle cx="495.02" cy="368.19" r="2.55" fill="#d62728" fill-opacity="0.8" stroke="#000" stroke-opacity="0.65" stroke-width="0.8"/>
<circle cx="509.63" cy="357.70" r="2.55" fill="#d62728" fill-opacity="0.8" stroke="#000" stroke-opacity="0.65" stroke-width="0.8"/>
<circle cx="524.37" cy="347.33" r="2.55" fill="#d62728" fill-opacity="0.8" stroke="#000" stroke-opacity="0.65" stroke-width="0.8"/>
<circle cx="542.62" cy="334.65" r="2.55" fill="#d62728" fill-opacity="0.8" stroke="#000" stroke-opacity="0.65" stroke-width="0.8"/>
<circle cx="428.48" cy="416.36" r="2.55" fill="#d62728" fill-opacity="0.8" stroke="#000" stroke-opacity="0.65" stroke-width="0.8"/>
<circle cx="437.86" cy="409.97" r="2.55" fill="#d62728" fill-opacity="0.8" stroke="#000" stroke-opacity="0.65" stroke-width="0.8"/>
<circle cx="491.10" cy="371.34" r="2.55" fill="#d62728" fill-opacity="0.8" stroke="#000" stroke-opacity="0.65" stroke-width="0.8"/>
<circle cx="504.92" cy="360.62" r="2.55" fill="#d62728" fill-opacity="0.8" stroke="#000" stroke-opacity="0.65" stroke-width="0.8"/>
<circle cx="429.03" cy="415.80" r="2.55" fill="#d62728" fill-opacity="0.8" stroke="#000" stroke-opacity="0.65" stroke-width="0.8"/>
<circle cx="528.75" cy="344.78" r="2.55" fill="#d62728" fill-opacity="0.8" stroke="#000" stroke-opacity="0.65" stroke-width="0.8"/>
<circle cx="480.36" cy="379.73" r="2.55" fill="#d62728" fill-opacity="0.8" stroke="#000" stroke-opacity="0.65" stroke-width="0.8"/>
<circle cx="544.42" cy="332.50" r="2.55" fill="#d62728" fill-opacity="0.8" stroke="#000" stroke-opacity="0.65" stroke-width="0.8"/>
<circle cx="514.59" cy="354.72" r="2.55" fill="#d62728" fill-opacity="0.8" stroke="#000" stroke-opacity="0.65" stroke-width="0.8"/>
<circle cx="482.08" cy="377.82" r="2.55" fill="#d62728" fill-opacity="0.8" stroke="#000" stroke-opacity="0.65" stroke-width="0.8"/>
<circle cx="491.24" cy="370.37" r="2.55" fill="#d62728" fill-opacity="0.8" stroke="#000" stroke-opacity="0.65" stroke-width="0.8"/>
<circle cx="486.12" cy="375.79" r="2.55" fill="#d62728" fill-opacity="0.8" stroke="#000" stroke-opacity="0.65" stroke-width="0.8"/>
<circle cx="512.61" cy="356.00" r="2.55" fill="#d62728" fill-opacity="0.8" stroke="#000" stroke-opacity="0.65" stroke-width="0.8"/>
<circle cx="545.76" cy="332.53" r="2.55" fill="#d62728" fill-opacity="0.8" stroke="#000" stroke-opacity="0.65" stroke-width="0.8"/>
<circle cx="523.21" cy="348.35" r="2.55" fill="#d62728" fill-opacity="0.8" stroke="#000" stroke-opacity="0.65" stroke-width="0.8"/>
<circle cx="427.18" cy="418.03" r="2.55" fill="#d62728" fill-opacity="0.8" stroke="#000" stroke-opacity="0.65" stroke-width="0.8"/>
<circle cx="425.44" cy="419.13" r="2.55" fill="#d62728" fill-opacity="0.8" stroke="#000" stroke-opacity="0.65" stroke-width="0.8"/>
<circle cx="531.96" cy="341.44" r="2.55" fill="#d62728" fill-opacity="0.8" stroke="#000" stroke-opacity="0.65" stroke-width="0.8"/>
<circle cx="477.79" cy="381.88" r="2.55" fill="#d62728" fill-opacity="0.8" stroke="#000" stroke-opacity="0.65" stroke-width="0.8"/>
<circle cx="484.33" cy="375.76" r="2.55" fill="#d62728" fill-opacity="0.8" stroke="#000" stroke-opacity="0.65" stroke-width="0.8"/>
<circle cx="501.90" cy="364.43" r="2.55" fill="#d62728" fill-opacity="0.8" stroke="#000" stroke-opacity="0.65" stroke-width="0.8"/>
<circle cx="473.80" cy="384.23" r="2.55" fill="#d62728" fill-opacity="0.8" stroke="#000" stroke-opacity="0.65" stroke-width="0.8"/>
<circle cx="530.74" cy="342.52" r="2.55" fill="#d62728" fill-opacity="0.8" stroke="#000" stroke-opacity="0.65" stroke-width="0.8"/>
<circle cx="478.87" cy="381.28" r="2.55" fill="#17becf" fill-opacity="0.8" stroke="#000" stroke-opacity="0.65" stroke-width="0.8"/>
<circle cx="517.82" cy="352.31" r="2.55" fill="#17becf" fill-opacity="0.8" stroke="#000" stroke-opacity="0.65" stroke-width="0.8"/>
<circle cx="442.78" cy="406.42" r="2.55" fill="#d62728" fill-opacity="0.8" stroke="#000" stroke-opacity="0.65" stroke-width="0.8"/>
<circle cx="448.75" cy="401.32" r="2.55" fill="#d62728" fill-opacity="0.8" stroke="#000" stroke-opacity="0.65" stroke-width="0.8"/>
<circle cx="453.41" cy="399.14" r="2.55" fill="#d62728" fill-opacity="0.8" stroke="#000" stroke-opacity="0.65" stroke-width="0.8"/>
<circle cx="547.33" cy="331.25" r="2.55" fill="#d62728" fill-opacity="0.8" stroke="#000" stroke-opacity="0.65" stroke-width="0.8"/>
<circle cx="508.58" cy="358.71" r="2.55" fill="#d62728" fill-opacity="0.8" stroke="#000" stroke-opacity="0.65" stroke-width="0.8"/>
<circle cx="538.03" cy="337.10" r="2.55" fill="#d62728" fill-opacity="0.8" stroke="#000" stroke-opacity="0.65" stroke-width="0.8"/>
<circle cx="522.63" cy="349.35" r="2.55" fill="#d62728" fill-opacity="0.8" stroke="#000" stroke-opacity="0.65" stroke-width="0.8"/>
<circle cx="482.42" cy="377.14" r="2.55" fill="#d62728" fill-opacity="0.8" stroke="#000" stroke-opacity="0.65" stroke-width="0.8"/>
<circle cx="536.79" cy="338.07" r="2.55" fill="#d62728" fill-opacity="0.8" stroke="#000" stroke-opacity="0.65" stroke-width="0.8"/>
<circle cx="458.60" cy="394.91" r="2.55" fill="#d62728" fill-opacity="0.8" stroke="#000" stroke-opacity="0.65" stroke-width="0.8"/>
<circle cx="489.74" cy="371.87" r="2.55" fill="#d62728" fill-opacity="0.8" stroke="#000" stroke-opacity="0.65" stroke-width="0.8"/>
<circle cx="549.41" cy="329.78" r="2.55" fill="#d62728" fill-opacity="0.8" stroke="#000" stroke-opacity="0.65" stroke-width="0.8"/>
<circle cx="538.94" cy="335.87" r="2.55" fill="#d62728" fill-opacity="0.8" stroke="#000" stroke-opacity="0.65" stroke-width="0.8"/>
<circle cx="431.19" cy="414.19" r="2.55" fill="#d62728" fill-opacity="0.8" stroke="#000" stroke-opacity="0.65" stroke-width="0.8"/>
<circle cx="378.10" cy="443.60" r="2.55" fill="#1f77b4" fill-opacity="0.8" stroke="#000" stroke-opacity="0.65" stroke-width="0.8"/>
<circle cx="392.30" cy="428.40" r="2.55" fill="#1f77b4" fill-opacity="0.8" stroke="#000" stroke-opacity="0.65" stroke-width="0.8"/>
<circle cx="427.00" cy="417.40" r="2.55" fill="#1f77b4" fill-opacity="0.8" stroke="#000" stroke-opacity="0.65" stroke-width="0.8"/>
<circle cx="472.60" cy="397.90" r="2.55" fill="#1f77b4" fill-opacity="0.8" stroke="#000" stroke-opacity="0.65" stroke-width="0.8"/>
<circle cx="487.70" cy="397.40" r="2.55" fill="#1f77b4" fill-opacity="0.8" stroke="#000" stroke-opacity="0.65" stroke-width="0.8"/>
<circle cx="498.60" cy="403.30" r="2.55" fill="#1f77b4" fill-opacity="0.8" stroke="#000" stroke-opacity="0.65" stroke-width="0.8"/>
<circle cx="516.90" cy="401.50" r="2.55" fill="#1f77b4" fill-opacity="0.8" stroke="#000" stroke-opacity="0.65" stroke-width="0.8"/>
<circle cx="551.80" cy="388.10" r="2.55" fill="#1f77b4" fill-opacity="0.8" stroke="#000" stroke-opacity="0.65" stroke-width="0.8"/>
<circle cx="583.50" cy="393.10" r="2.55" fill="#1f77b4" fill-opacity="0.8" stroke="#000" stroke-opacity="0.65" stroke-width="0.8"/>
<circle cx="573.20" cy="318.20" r="2.55" fill="#1f77b4" fill-opacity="0.8" stroke="#000" stroke-opacity="0.65" stroke-width="0.8"/>
<circle cx="475.50" cy="385.50" r="2.55" fill="#1f77b4" fill-opacity="0.8" stroke="#000" stroke-opacity="0.65" stroke-width="0.8"/>
<circle cx="468.10" cy="422.70" r="2.55" fill="#1f77b4" fill-opacity="0.8" stroke="#000" stroke-opacity="0.65" stroke-width="0.8"/>
<circle cx="378.60" cy="452.50" r="2.55" fill="#d62728" fill-opacity="0.8" stroke="#000" stroke-opacity="0.65" stroke-width="0.8"/>
<circle cx="397.80" cy="441.80" r="2.55" fill="#d62728" fill-opacity="0.8" stroke="#000" stroke-opacity="0.65" stroke-width="0.8"/>
<circle cx="401.50" cy="439.30" r="2.55" fill="#d62728" fill-opacity="0.8" stroke="#000" stroke-opacity="0.65" stroke-width="0.8"/>
<circle cx="423.40" cy="420.70" r="2.55" fill="#d62728" fill-opacity="0.8" stroke="#000" stroke-opacity="0.65" stroke-width="0.8"/>
<circle cx="505.40" cy="370.80" r="2.55" fill="#d62728" fill-opacity="0.8" stroke="#000" stroke-opacity="0.65" stroke-width="0.8"/>
<circle cx="487.70" cy="369.40" r="2.55" fill="#d62728" fill-opacity="0.8" stroke="#000" stroke-opacity="0.65" stroke-width="0.8"/>
<circle cx="510.10" cy="354.10" r="2.55" fill="#d62728" fill-opacity="0.8" stroke="#000" stroke-opacity="0.65" stroke-width="0.8"/>
<circle cx="563.30" cy="317.70" r="2.55" fill="#d62728" fill-opacity="0.8" stroke="#000" stroke-opacity="0.65" stroke-width="0.8"/>
<circle cx="562.10" cy="320.40" r="2.55" fill="#d62728" fill-opacity="0.8" stroke="#000" stroke-opacity="0.65" stroke-width="0.8"/>
<circle cx="554.10" cy="325.80" r="2.55" fill="#d62728" fill-opacity="0.8" stroke="#000" stroke-opacity="0.65" stroke-width="0.8"/>
<circle cx="447.80" cy="436.70" r="2.55" fill="#9467bd" fill-opacity="0.8" stroke="#000" stroke-opacity="0.65" stroke-width="0.8"/>
<circle cx="509.50" cy="411.40" r="2.55" fill="#9467bd" fill-opacity="0.8" stroke="#000" stroke-opacity="0.65" stroke-width="0.8"/>
<circle cx="430.70" cy="412.30" r="2.55" fill="#17becf" fill-opacity="0.8" stroke="#000" stroke-opacity="0.65" stroke-width="0.8"/>
<circle cx="440.20" cy="407.50" r="2.55" fill="#17becf" fill-opacity="0.8" stroke="#000" stroke-opacity="0.65" stroke-width="0.8"/>
<circle cx="476.70" cy="377.40" r="2.55" fill="#17becf" fill-opacity="0.8" stroke="#000" stroke-opacity="0.65" stroke-width="0.8"/>
<circle cx="500.80" cy="361.00" r="2.55" fill="#17becf" fill-opacity="0.8" stroke="#000" stroke-opacity="0.65" stroke-width="0.8"/>
<circle cx="528.10" cy="341.40" r="2.55" fill="#17becf" fill-opacity="0.8" stroke="#000" stroke-opacity="0.65" stroke-width="0.8"/>
<circle cx="550.40" cy="328.40" r="2.55" fill="#17becf" fill-opacity="0.8" stroke="#000" stroke-opacity="0.65" stroke-width="0.8"/>
<circle cx="548.20" cy="330.60" r="2.55" fill="#17becf" fill-opacity="0.8" stroke="#000" stroke-opacity="0.65" stroke-width="0.8"/>
<circle cx="544.60" cy="334.20" r="2.55" fill="#17becf" fill-opacity="0.8" stroke="#000" stroke-opacity="0.65" stroke-width="0.8"/>
<circle cx="596.40" cy="298.50" r="2.55" fill="#2ca02c" fill-opacity="0.8" stroke="#000" stroke-opacity="0.65" stroke-width="0.8"/>
<line x1="378.60" y1="452.97" x2="625.60" y2="273.80" stroke="#ff0000" stroke-opacity="0.85" stroke-width="1" stroke-dasharray="2.2 1.4"/>
<polyline points="365.6,462.4 625.6,462.4 625.6,273.8 365.6,273.8" fill="none" stroke="#b8b8b8" stroke-width="1.4"/>
<line x1="365.6" y1="273.8" x2="365.6" y2="462.4" stroke="#4d4d4d" stroke-width="0.9"/>
<line x1="365.60" y1="462.4" x2="365.60" y2="464.4" stroke="#4d4d4d" stroke-width="0.9"/>
<line x1="363.6" y1="462.40" x2="365.6" y2="462.40" stroke="#4d4d4d" stroke-width="0.9"/>
<text x="361.49" y="476.1" font-size="14.12" textLength="7.81" lengthAdjust="spacingAndGlyphs">0</text>
<text x="354.33" y="467.8" font-size="14.12" textLength="7.81" lengthAdjust="spacingAndGlyphs">0</text>
<line x1="430.60" y1="462.4" x2="430.60" y2="464.4" stroke="#4d4d4d" stroke-width="0.9"/>
<line x1="363.6" y1="415.25" x2="365.6" y2="415.25" stroke="#4d4d4d" stroke-width="0.9"/>
<text x="426.48" y="476.1" font-size="14.12" textLength="7.46" lengthAdjust="spacingAndGlyphs">1</text>
<text x="354.79" y="420.65" font-size="14.12" textLength="7.46" lengthAdjust="spacingAndGlyphs">1</text>
<line x1="495.60" y1="462.4" x2="495.60" y2="464.4" stroke="#4d4d4d" stroke-width="0.9"/>
<line x1="363.6" y1="368.10" x2="365.6" y2="368.10" stroke="#4d4d4d" stroke-width="0.9"/>
<text x="491.63" y="476.1" font-size="14.12" textLength="7.53" lengthAdjust="spacingAndGlyphs">2</text>
<text x="354.75" y="373.5" font-size="14.12" textLength="7.53" lengthAdjust="spacingAndGlyphs">2</text>
<line x1="560.60" y1="462.4" x2="560.60" y2="464.4" stroke="#4d4d4d" stroke-width="0.9"/>
<line x1="363.6" y1="320.95" x2="365.6" y2="320.95" stroke="#4d4d4d" stroke-width="0.9"/>
<text x="556.69" y="476.1" font-size="14.12" textLength="7.51" lengthAdjust="spacingAndGlyphs">3</text>
<text x="354.69" y="326.35" font-size="14.12" textLength="7.51" lengthAdjust="spacingAndGlyphs">3</text>
<line x1="625.60" y1="462.4" x2="625.60" y2="464.4" stroke="#4d4d4d" stroke-width="0.9"/>
<line x1="363.6" y1="273.80" x2="365.6" y2="273.80" stroke="#4d4d4d" stroke-width="0.9"/>
<text x="621.54" y="476.1" font-size="14.12" textLength="7.82" lengthAdjust="spacingAndGlyphs">4</text>
<text x="354.2" y="279.2" font-size="14.12" textLength="7.82" lengthAdjust="spacingAndGlyphs">4</text>
<text x="451.05" y="492.6" font-size="14.12" textLength="7.71" lengthAdjust="spacingAndGlyphs">E</text>
<text x="459.75" y="496.4" font-size="9.89" textLength="6.01" lengthAdjust="spacingAndGlyphs">g</text>
<text x="459.54" y="487.6" font-size="9.89" textLength="47.01" lengthAdjust="spacingAndGlyphs">DFT+U+V</text>
<text x="512.2" y="492.6" font-size="14.12" textLength="27.54" lengthAdjust="spacingAndGlyphs">(eV)</text>
<text transform="translate(345.6,397.25) rotate(-90)" font-size="14.12" textLength="7.71" lengthAdjust="spacingAndGlyphs">E</text>
<text transform="translate(349.7,388.55) rotate(-90)" font-size="9.89" textLength="6.01" lengthAdjust="spacingAndGlyphs">g</text>
<text transform="translate(340.6,388.67) rotate(-90)" font-size="9.89" textLength="18.35" lengthAdjust="spacingAndGlyphs">DFT</text>
<text transform="translate(345.6,365.34) rotate(-90)" font-size="14.12" textLength="27.54" lengthAdjust="spacingAndGlyphs">(eV)</text>
<rect x="647" y="277.00" width="10.5" height="19.96" fill="#17becf" fill-opacity="0.8"/>
<rect x="647" y="296.66" width="10.5" height="19.96" fill="#bcbd22" fill-opacity="0.8"/>
<rect x="647" y="316.32" width="10.5" height="19.96" fill="#7f7f7f" fill-opacity="0.8"/>
<rect x="647" y="335.98" width="10.5" height="19.96" fill="#e377c2" fill-opacity="0.8"/>
<rect x="647" y="355.64" width="10.5" height="19.96" fill="#8c564b" fill-opacity="0.8"/>
<rect x="647" y="375.30" width="10.5" height="19.96" fill="#9467bd" fill-opacity="0.8"/>
<rect x="647" y="394.96" width="10.5" height="19.96" fill="#d62728" fill-opacity="0.8"/>
<rect x="647" y="414.62" width="10.5" height="19.96" fill="#2ca02c" fill-opacity="0.8"/>
<rect x="647" y="434.28" width="10.5" height="19.96" fill="#ff7f0e" fill-opacity="0.8"/>
<rect x="647" y="453.94" width="10.5" height="19.96" fill="#1f77b4" fill-opacity="0.8"/>
<line x1="657.5" y1="453.94" x2="659.3" y2="453.94" stroke="#333" stroke-width="0.8"/>
<text x="659.71" y="458.24" font-size="9.89" textLength="11.33" lengthAdjust="spacingAndGlyphs">30</text>
<line x1="657.5" y1="414.62" x2="659.3" y2="414.62" stroke="#333" stroke-width="0.8"/>
<text x="659.86" y="418.92" font-size="9.89" textLength="11.43" lengthAdjust="spacingAndGlyphs">40</text>
<line x1="657.5" y1="375.30" x2="659.3" y2="375.30" stroke="#333" stroke-width="0.8"/>
<text x="659.69" y="379.6" font-size="9.89" textLength="11.34" lengthAdjust="spacingAndGlyphs">50</text>
<line x1="657.5" y1="335.98" x2="659.3" y2="335.98" stroke="#333" stroke-width="0.8"/>
<text x="659.57" y="340.28" font-size="9.89" textLength="11.53" lengthAdjust="spacingAndGlyphs">60</text>
<line x1="657.5" y1="296.66" x2="659.3" y2="296.66" stroke="#333" stroke-width="0.8"/>
<text x="659.57" y="300.96" font-size="9.89" textLength="11.41" lengthAdjust="spacingAndGlyphs">70</text>
<text transform="translate(679.9,410.02) rotate(-90)" font-size="9.38" textLength="68.29" lengthAdjust="spacingAndGlyphs">Atomic number</text>
<text x="1.69" y="11.8" font-size="15.54" textLength="19.81" lengthAdjust="spacingAndGlyphs">(a)</text>
<text x="319.65" y="11.8" font-size="15.54" textLength="20.7" lengthAdjust="spacingAndGlyphs">(b)</text>
<text x="1.61" y="264.6" font-size="15.54" textLength="18.69" lengthAdjust="spacingAndGlyphs">(c)</text>
<text x="319.66" y="264.6" font-size="15.54" textLength="20.48" lengthAdjust="spacingAndGlyphs">(d)</text>
</svg>
</body></html>
